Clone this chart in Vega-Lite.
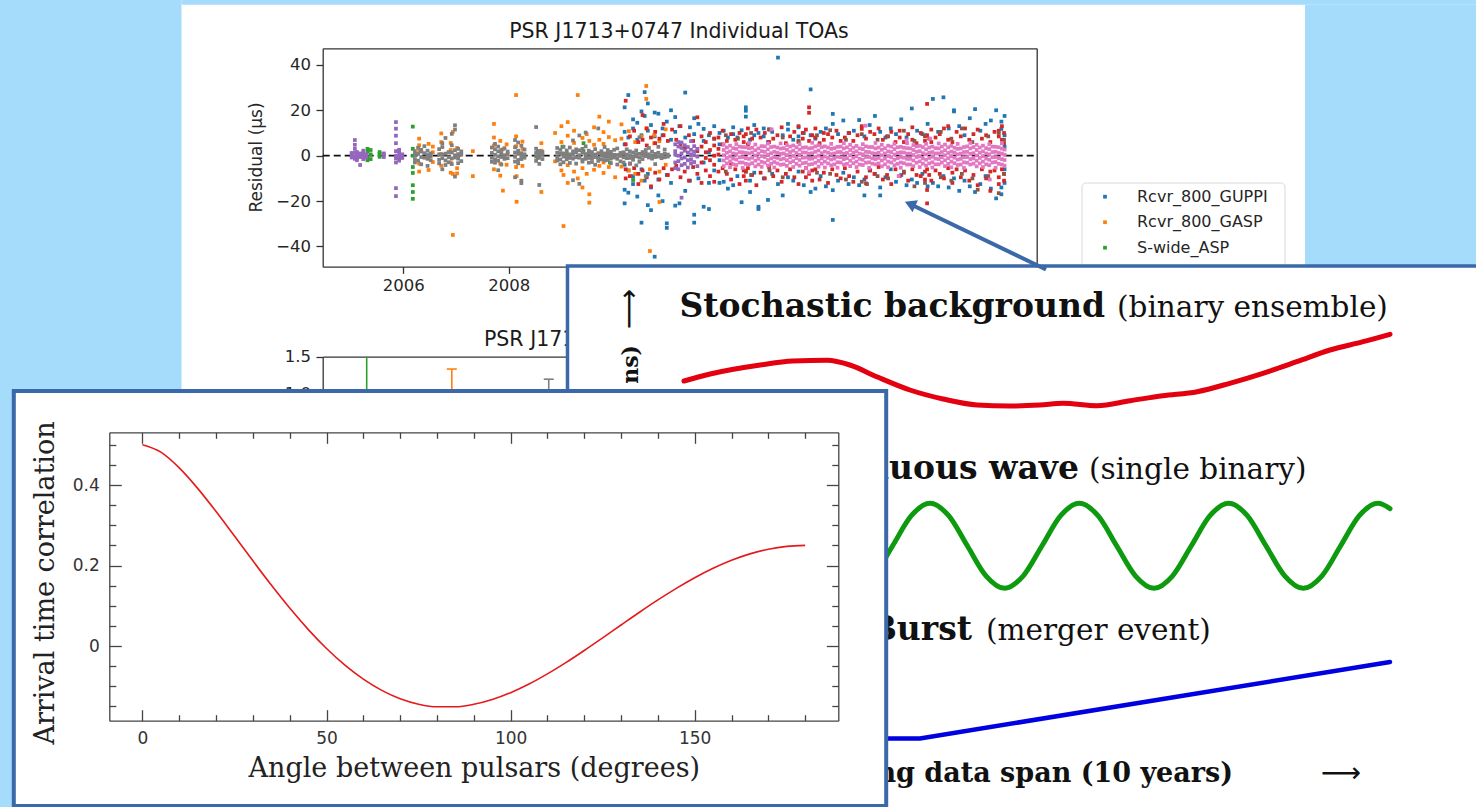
{
"$schema":"https://vega.github.io/schema/vega-lite/v6.json",
"width":1476,"height":807,"autosize":{"type":"none"},"padding":0,"background":"#ffffff",
"config":{"view":{"stroke":null},"font":"DejaVu Sans","axis":{"grid":false,"titleFontWeight":"normal"}},
"datasets":{
"strips":[{"x0":0,"y0":0,"x1":181.5,"y1":807},{"x0":181.5,"y0":0,"x1":1476,"y1":4.7},{"x0":1305,"y0":4.7,"x1":1476,"y1":266}],
"rpanel":[{"x0":567.5,"y0":266,"x1":1500,"y1":830}],
"hdpanel":[{"x0":13.8,"y0":391,"x1":886.2,"y1":806}],
"pointer":[{"px":1046,"py":269.5},{"px":910,"py":204}],
"head":[{"px":910.1,"py":204}],
"legend":[{"name":"Rcvr_800_GUPPI","b":"G8"},{"name":"Rcvr_800_GASP","b":"O8"},{"name":"S-wide_ASP","b":"SA"}],
"s2":[{"t":2005.305,"lo":0.35,"hi":1.5,"b":"SA"},{"t":2006.92,"lo":0.67,"hi":1.33,"b":"O8"},{"t":2008.76,"lo":0.81,"hi":1.19,"b":"R1"}],
"curves":[
{"t":0,"r":42.6,"s":"Stochastic"},{"t":0.37,"r":43.3,"s":"Stochastic"},{"t":1.08,"r":44.2,"s":"Stochastic"},{"t":1.54,"r":44.6,"s":"Stochastic"},{"t":2.03,"r":44.67,"s":"Stochastic"},{"t":2.35,"r":44.2,"s":"Stochastic"},{"t":2.73,"r":43.03,"s":"Stochastic"},{"t":3.2,"r":41.7,"s":"Stochastic"},{"t":3.67,"r":40.8,"s":"Stochastic"},{"t":4.15,"r":40.2,"s":"Stochastic"},{"t":4.62,"r":40.1,"s":"Stochastic"},{"t":5.04,"r":40.2,"s":"Stochastic"},{"t":5.37,"r":40.37,"s":"Stochastic"},{"t":5.85,"r":40.13,"s":"Stochastic"},{"t":6.32,"r":40.63,"s":"Stochastic"},{"t":6.78,"r":41.13,"s":"Stochastic"},{"t":7.27,"r":41.53,"s":"Stochastic"},{"t":7.73,"r":42.37,"s":"Stochastic"},{"t":8.2,"r":43.37,"s":"Stochastic"},{"t":8.68,"r":44.53,"s":"Stochastic"},{"t":9.15,"r":45.7,"s":"Stochastic"},{"t":9.62,"r":46.53,"s":"Stochastic"},{"t":10,"r":47.27,"s":"Stochastic"},
{"t":0.047,"r":23.12,"s":"Continuous"},{"t":0.311,"r":21.87,"s":"Continuous"},{"t":0.576,"r":23.12,"s":"Continuous"},{"t":0.84,"r":26.12,"s":"Continuous"},{"t":1.105,"r":29.13,"s":"Continuous"},{"t":1.369,"r":30.37,"s":"Continuous"},{"t":1.633,"r":29.13,"s":"Continuous"},{"t":1.898,"r":26.12,"s":"Continuous"},{"t":2.162,"r":23.12,"s":"Continuous"},{"t":2.427,"r":21.87,"s":"Continuous"},{"t":2.691,"r":23.12,"s":"Continuous"},{"t":2.955,"r":26.12,"s":"Continuous"},{"t":3.22,"r":29.13,"s":"Continuous"},{"t":3.484,"r":30.37,"s":"Continuous"},{"t":3.749,"r":29.13,"s":"Continuous"},{"t":4.013,"r":26.12,"s":"Continuous"},{"t":4.277,"r":23.12,"s":"Continuous"},{"t":4.542,"r":21.87,"s":"Continuous"},{"t":4.806,"r":23.12,"s":"Continuous"},{"t":5.071,"r":26.12,"s":"Continuous"},{"t":5.335,"r":29.13,"s":"Continuous"},{"t":5.599,"r":30.37,"s":"Continuous"},{"t":5.864,"r":29.13,"s":"Continuous"},{"t":6.128,"r":26.12,"s":"Continuous"},{"t":6.393,"r":23.12,"s":"Continuous"},{"t":6.657,"r":21.87,"s":"Continuous"},{"t":6.921,"r":23.12,"s":"Continuous"},{"t":7.186,"r":26.12,"s":"Continuous"},{"t":7.45,"r":29.13,"s":"Continuous"},{"t":7.715,"r":30.37,"s":"Continuous"},{"t":7.979,"r":29.13,"s":"Continuous"},{"t":8.243,"r":26.12,"s":"Continuous"},{"t":8.508,"r":23.12,"s":"Continuous"},{"t":8.772,"r":21.87,"s":"Continuous"},{"t":9.037,"r":23.12,"s":"Continuous"},{"t":9.301,"r":26.12,"s":"Continuous"},{"t":9.565,"r":29.13,"s":"Continuous"},{"t":9.83,"r":30.37,"s":"Continuous"},{"t":10,"r":29.84,"s":"Continuous"}],
"burst":[{"t":0,"r":6.85,"s":"Burst"},{"t":3.343,"r":6.85,"s":"Burst"},{"t":10,"r":14.5,"s":"Burst"}],
"boldtxt":[{"txt":"Stochastic background","t":5.963,"r":49.05},{"txt":"Continuous wave","t":5.595,"r":32.77},{"txt":"Burst","t":4.079,"r":16.67}],
"normtxt":[{"txt":"(binary ensemble)","t":6.133,"r":49.05},{"txt":"(single binary)","t":5.737,"r":32.77},{"txt":"(merger event)","t":4.278,"r":16.67}],
"axlab":[{"txt":"Timing data span (10 years)","t":7.776,"r":2.5}],
"harrow":[{"txt":"⟶","t":9.589,"r":2.5}],
"ylab":[{"txt":"Timing residual (tens of ns)","t":-0.652,"r":46.2}],
"varrow":[{"txt":"⟶","t":-0.652,"r":51.8}],
"hd":[{"a":0,"c":0.5},{"a":5,"c":0.4816},{"a":10,"c":0.4425},{"a":15,"c":0.3917},{"a":20,"c":0.3341},{"a":25,"c":0.2732},{"a":30,"c":0.2116},{"a":35,"c":0.1514},{"a":40,"c":0.0942},{"a":45,"c":0.0414},{"a":50,"c":-0.0062},{"a":55,"c":-0.0476},{"a":60,"c":-0.0824},{"a":65,"c":-0.1102},{"a":70,"c":-0.1309},{"a":75,"c":-0.1445},{"a":80,"c":-0.1511},{"a":85,"c":-0.1511},{"a":90,"c":-0.1449},{"a":95,"c":-0.1329},{"a":100,"c":-0.1159},{"a":105,"c":-0.0945},{"a":110,"c":-0.0693},{"a":115,"c":-0.0413},{"a":120,"c":-0.0111},{"a":125,"c":0.0203},{"a":130,"c":0.0522},{"a":135,"c":0.0839},{"a":140,"c":0.1145},{"a":145,"c":0.1433},{"a":150,"c":0.1697},{"a":155,"c":0.1931},{"a":160,"c":0.213},{"a":165,"c":0.2289},{"a":170,"c":0.2405},{"a":175,"c":0.2476},{"a":180,"c":0.25}],
"toa":[
{"t":2010.2,"r":21.3,"b":"G8"},{"t":2010.2,"r":-21,"b":"G8"},{"t":2010.2,"r":5,"b":"G8"},{"t":2010.2,"r":-4,"b":"G8"},{"t":2010.2,"r":10.5,"b":"G8"},{"t":2010.2,"r":-15,"b":"G8"},
{"t":2010.27,"r":26.7,"b":"G8"},{"t":2010.27,"r":-16.3,"b":"G8"},{"t":2010.27,"r":8,"b":"G8"},{"t":2010.27,"r":-6.5,"b":"G8"},
{"t":2010.36,"r":12,"b":"G8"},{"t":2010.36,"r":-9,"b":"G8"},{"t":2010.36,"r":-12.5,"b":"G8"},{"t":2010.36,"r":16,"b":"G8"},
{"t":2010.44,"r":7,"b":"G8"},{"t":2010.44,"r":14.5,"b":"G8"},{"t":2010.44,"r":-18,"b":"G8"},
{"t":2010.52,"r":-29.5,"b":"G8"},{"t":2010.52,"r":9,"b":"G8"},{"t":2010.52,"r":-6,"b":"G8"},{"t":2010.52,"r":19.5,"b":"G8"},
{"t":2010.58,"r":28,"b":"G8"},{"t":2010.58,"r":17.5,"b":"G8"},{"t":2010.58,"r":-11,"b":"G8"},
{"t":2010.64,"r":-21.8,"b":"G8"},{"t":2010.64,"r":11,"b":"G8"},{"t":2010.64,"r":-8,"b":"G8"},{"t":2010.64,"r":23,"b":"G8"},
{"t":2010.7,"r":13.5,"b":"G8"},{"t":2010.7,"r":-14,"b":"G8"},{"t":2010.7,"r":-24,"b":"G8"},
{"t":2010.77,"r":-44.5,"b":"G8"},{"t":2010.77,"r":19,"b":"G8"},{"t":2010.77,"r":8.5,"b":"G8"},
{"t":2010.84,"r":18.5,"b":"G8"},{"t":2010.84,"r":-10.5,"b":"G8"},{"t":2010.84,"r":-17.5,"b":"G8"},
{"t":2010.92,"r":9,"b":"G8"},{"t":2010.92,"r":-20,"b":"G8"},{"t":2010.92,"r":12,"b":"G8"},
{"t":2011,"r":-29.8,"b":"G8"},{"t":2011,"r":-31.8,"b":"G8"},{"t":2011,"r":15,"b":"G8"},{"t":2011,"r":-8.5,"b":"G8"},
{"t":2011.08,"r":20,"b":"G8"},{"t":2011.08,"r":-12,"b":"G8"},{"t":2011.08,"r":7,"b":"G8"},
{"t":2011.16,"r":10.5,"b":"G8"},{"t":2011.16,"r":-22,"b":"G8"},{"t":2011.16,"r":17,"b":"G8"},
{"t":2011.24,"r":-21,"b":"G8"},{"t":2011.24,"r":13,"b":"G8"},
{"t":2011.35,"r":27.8,"b":"G8"},{"t":2011.35,"r":-15.5,"b":"G8"},{"t":2011.35,"r":8,"b":"G8"},
{"t":2011.44,"r":-11,"b":"G8"},{"t":2011.44,"r":12.5,"b":"G8"},
{"t":2011.52,"r":-29.5,"b":"G8"},{"t":2011.52,"r":-26,"b":"G8"},{"t":2011.52,"r":9.5,"b":"G8"},{"t":2011.52,"r":16.5,"b":"G8"},
{"t":2011.6,"r":14,"b":"G8"},{"t":2011.6,"r":-10,"b":"G8"},
{"t":2011.7,"r":11.8,"b":"G8"},{"t":2011.7,"r":-22.5,"b":"G8"},{"t":2011.7,"r":6.5,"b":"G8"},{"t":2011.7,"r":-3,"b":"G8"},
{"t":2011.8,"r":-23.5,"b":"G8"},{"t":2011.8,"r":9,"b":"G8"},{"t":2011.8,"r":-12,"b":"G8"},{"t":2011.8,"r":1.5,"b":"G8"},
{"t":2011.9,"r":7.5,"b":"G8"},{"t":2011.9,"r":-6.5,"b":"G8"},{"t":2011.9,"r":13,"b":"G8"},
{"t":2012,"r":-12,"b":"G8"},{"t":2012,"r":10,"b":"G8"},{"t":2012,"r":-2,"b":"G8"},{"t":2012,"r":5,"b":"G8"},
{"t":2012.08,"r":11,"b":"G8"},{"t":2012.08,"r":-11.5,"b":"G8"},
{"t":2012.16,"r":-14.5,"b":"G8"},{"t":2012.16,"r":8,"b":"G8"},
{"t":2012.26,"r":-13,"b":"G8"},{"t":2012.26,"r":9.5,"b":"G8"},{"t":2012.26,"r":12.5,"b":"G8"},
{"t":2012.34,"r":8,"b":"G8"},{"t":2012.34,"r":-9,"b":"G8"},
{"t":2012.42,"r":-20.5,"b":"G8"},{"t":2012.42,"r":11.2,"b":"G8"},
{"t":2012.5,"r":17.2,"b":"G8"},{"t":2012.5,"r":19.8,"b":"G8"},{"t":2012.5,"r":21.3,"b":"G8"},{"t":2012.5,"r":-7,"b":"G8"},
{"t":2012.58,"r":-16,"b":"G8"},{"t":2012.58,"r":-11,"b":"G8"},{"t":2012.58,"r":7,"b":"G8"},
{"t":2012.66,"r":9,"b":"G8"},{"t":2012.66,"r":-7.5,"b":"G8"},{"t":2012.66,"r":13.5,"b":"G8"},
{"t":2012.74,"r":-22.5,"b":"G8"},{"t":2012.74,"r":-23.5,"b":"G8"},{"t":2012.74,"r":10,"b":"G8"},
{"t":2012.84,"r":8.5,"b":"G8"},{"t":2012.84,"r":-10,"b":"G8"},{"t":2012.84,"r":12,"b":"G8"},
{"t":2012.92,"r":-19.5,"b":"G8"},{"t":2012.92,"r":6,"b":"G8"},
{"t":2013,"r":10.5,"b":"G8"},{"t":2013,"r":-8,"b":"G8"},
{"t":2013.11,"r":43.2,"b":"G8"},{"t":2013.11,"r":-12.5,"b":"G8"},
{"t":2013.2,"r":-17.5,"b":"G8"},{"t":2013.2,"r":9,"b":"G8"},
{"t":2013.3,"r":11.5,"b":"G8"},{"t":2013.3,"r":-9.5,"b":"G8"},{"t":2013.3,"r":14,"b":"G8"},
{"t":2013.4,"r":-11,"b":"G8"},{"t":2013.4,"r":7,"b":"G8"},
{"t":2013.5,"r":8.5,"b":"G8"},{"t":2013.5,"r":-7,"b":"G8"},{"t":2013.5,"r":12.5,"b":"G8"},
{"t":2013.6,"r":-13,"b":"G8"},{"t":2013.6,"r":10,"b":"G8"},
{"t":2013.73,"r":29.2,"b":"G8"},{"t":2013.73,"r":9,"b":"G8"},{"t":2013.73,"r":-16,"b":"G8"},
{"t":2013.82,"r":-14.5,"b":"G8"},{"t":2013.82,"r":7.5,"b":"G8"},
{"t":2013.92,"r":10.5,"b":"G8"},{"t":2013.92,"r":-9,"b":"G8"},
{"t":2014.02,"r":-13.5,"b":"G8"},{"t":2014.02,"r":12,"b":"G8"},
{"t":2014.15,"r":18.4,"b":"G8"},{"t":2014.15,"r":14,"b":"G8"},{"t":2014.15,"r":-28.3,"b":"G8"},{"t":2014.15,"r":-15.2,"b":"G8"},
{"t":2014.25,"r":9.5,"b":"G8"},{"t":2014.25,"r":-11,"b":"G8"},
{"t":2014.35,"r":15.5,"b":"G8"},{"t":2014.35,"r":-7.5,"b":"G8"},
{"t":2014.45,"r":-12.5,"b":"G8"},{"t":2014.45,"r":10,"b":"G8"},
{"t":2014.55,"r":11,"b":"G8"},{"t":2014.55,"r":-9.5,"b":"G8"},
{"t":2014.65,"r":15.7,"b":"G8"},{"t":2014.65,"r":-13,"b":"G8"},
{"t":2014.75,"r":-10.5,"b":"G8"},{"t":2014.75,"r":8.5,"b":"G8"},{"t":2014.75,"r":-17.5,"b":"G8"},
{"t":2014.85,"r":13.5,"b":"G8"},{"t":2014.85,"r":-6.5,"b":"G8"},
{"t":2014.95,"r":17.5,"b":"G8"},{"t":2014.95,"r":-8,"b":"G8"},
{"t":2015.05,"r":10.5,"b":"G8"},{"t":2015.05,"r":-14,"b":"G8"},{"t":2015.05,"r":-17.5,"b":"G8"},
{"t":2015.15,"r":8,"b":"G8"},{"t":2015.15,"r":-9.5,"b":"G8"},
{"t":2015.25,"r":12,"b":"G8"},{"t":2015.25,"r":-6,"b":"G8"},
{"t":2015.35,"r":-11.5,"b":"G8"},{"t":2015.35,"r":9.5,"b":"G8"},
{"t":2015.45,"r":16,"b":"G8"},{"t":2015.45,"r":-8.5,"b":"G8"},
{"t":2015.55,"r":-13,"b":"G8"},{"t":2015.55,"r":8,"b":"G8"},
{"t":2015.65,"r":20.8,"b":"G8"},{"t":2015.65,"r":-10.5,"b":"G8"},
{"t":2015.75,"r":-12,"b":"G8"},{"t":2015.75,"r":11,"b":"G8"},
{"t":2015.85,"r":9.5,"b":"G8"},{"t":2015.85,"r":-8,"b":"G8"},
{"t":2015.95,"r":-13.5,"b":"G8"},{"t":2015.95,"r":14,"b":"G8"},
{"t":2016.05,"r":25,"b":"G8"},{"t":2016.05,"r":-12,"b":"G8"},
{"t":2016.15,"r":10.5,"b":"G8"},{"t":2016.15,"r":-13.5,"b":"G8"},
{"t":2016.25,"r":25.7,"b":"G8"},{"t":2016.25,"r":-9,"b":"G8"},
{"t":2016.35,"r":-14,"b":"G8"},{"t":2016.35,"r":12,"b":"G8"},
{"t":2016.45,"r":20,"b":"G8"},{"t":2016.45,"r":19.5,"b":"G8"},{"t":2016.45,"r":-10,"b":"G8"},
{"t":2016.55,"r":13,"b":"G8"},{"t":2016.55,"r":-15.5,"b":"G8"},
{"t":2016.65,"r":9,"b":"G8"},{"t":2016.65,"r":-11,"b":"G8"},
{"t":2016.75,"r":16.5,"b":"G8"},{"t":2016.75,"r":-13.5,"b":"G8"},
{"t":2016.85,"r":20.5,"b":"G8"},{"t":2016.85,"r":-16,"b":"G8"},
{"t":2016.95,"r":-12.5,"b":"G8"},{"t":2016.95,"r":11,"b":"G8"},
{"t":2017.05,"r":14,"b":"G8"},{"t":2017.05,"r":-9,"b":"G8"},
{"t":2017.15,"r":15.5,"b":"G8"},{"t":2017.15,"r":-14.5,"b":"G8"},
{"t":2017.25,"r":20,"b":"G8"},{"t":2017.25,"r":-18.8,"b":"G8"},
{"t":2017.35,"r":15,"b":"G8"},{"t":2017.35,"r":11.8,"b":"G8"},{"t":2017.35,"r":-14,"b":"G8"},{"t":2017.35,"r":-17,"b":"G8"},
{"t":2017.41,"r":17.5,"b":"G8"},{"t":2017.41,"r":9,"b":"G8"},{"t":2017.41,"r":-12,"b":"G8"},{"t":2017.41,"r":4,"b":"G8"},{"t":2017.41,"r":-6,"b":"G8"},
{"t":2006.3,"r":2,"b":"O8"},{"t":2006.3,"r":-3.5,"b":"O8"},{"t":2006.3,"r":7.5,"b":"O8"},{"t":2006.3,"r":-7,"b":"O8"},{"t":2006.3,"r":4.6,"b":"O8"},
{"t":2006.48,"r":-1,"b":"O8"},{"t":2006.48,"r":5.2,"b":"O8"},{"t":2006.48,"r":-6.3,"b":"O8"},
{"t":2006.56,"r":1.5,"b":"O8"},{"t":2006.56,"r":-2.8,"b":"O8"},{"t":2006.56,"r":4,"b":"O8"},
{"t":2006.72,"r":0.8,"b":"O8"},{"t":2006.72,"r":-4.4,"b":"O8"},{"t":2006.72,"r":6,"b":"O8"},{"t":2006.72,"r":9.8,"b":"O8"},
{"t":2006.9,"r":-3,"b":"O8"},{"t":2006.9,"r":2.5,"b":"O8"},{"t":2006.9,"r":-7.5,"b":"O8"},{"t":2006.9,"r":5.6,"b":"O8"},
{"t":2006.94,"r":-34.9,"b":"O8"},{"t":2006.94,"r":-8,"b":"O8"},{"t":2006.94,"r":10.5,"b":"O8"},
{"t":2007.02,"r":3.4,"b":"O8"},{"t":2007.02,"r":-5.5,"b":"O8"},{"t":2007.02,"r":-7.8,"b":"O8"},
{"t":2007.32,"r":2,"b":"O8"},{"t":2007.32,"r":-9,"b":"O8"},
{"t":2007.72,"r":4.5,"b":"O8"},{"t":2007.72,"r":-6,"b":"O8"},{"t":2007.72,"r":14,"b":"O8"},{"t":2007.72,"r":8,"b":"O8"},
{"t":2007.84,"r":-3.5,"b":"O8"},{"t":2007.84,"r":6.5,"b":"O8"},{"t":2007.84,"r":-8.8,"b":"O8"},
{"t":2007.89,"r":-15.4,"b":"O8"},{"t":2007.89,"r":2.8,"b":"O8"},
{"t":2007.96,"r":5,"b":"O8"},{"t":2007.96,"r":-4,"b":"O8"},
{"t":2008.14,"r":26.7,"b":"O8"},{"t":2008.14,"r":4.2,"b":"O8"},{"t":2008.14,"r":-5,"b":"O8"},{"t":2008.14,"r":8.5,"b":"O8"},
{"t":2008.15,"r":-20.3,"b":"O8"},{"t":2008.15,"r":-9,"b":"O8"},
{"t":2008.26,"r":3,"b":"O8"},{"t":2008.26,"r":-4.5,"b":"O8"},{"t":2008.26,"r":6.2,"b":"O8"},
{"t":2008.62,"r":-16,"b":"O8"},{"t":2008.62,"r":2.2,"b":"O8"},{"t":2008.62,"r":5.5,"b":"O8"},
{"t":2008.88,"r":10,"b":"O8"},{"t":2008.88,"r":-2.5,"b":"O8"},
{"t":2009,"r":6,"b":"O8"},{"t":2009,"r":-6.5,"b":"O8"},{"t":2009,"r":13,"b":"O8"},
{"t":2009.04,"r":-31,"b":"O8"},{"t":2009.04,"r":-8.5,"b":"O8"},
{"t":2009.12,"r":8.8,"b":"O8"},{"t":2009.12,"r":-4.2,"b":"O8"},{"t":2009.12,"r":14.8,"b":"O8"},{"t":2009.12,"r":-12,"b":"O8"},
{"t":2009.24,"r":5.6,"b":"O8"},{"t":2009.24,"r":-7,"b":"O8"},{"t":2009.24,"r":11,"b":"O8"},
{"t":2009.31,"r":26.7,"b":"O8"},{"t":2009.31,"r":-10,"b":"O8"},
{"t":2009.4,"r":7.8,"b":"O8"},{"t":2009.4,"r":-5.5,"b":"O8"},{"t":2009.4,"r":-14,"b":"O8"},
{"t":2009.48,"r":9.5,"b":"O8"},{"t":2009.48,"r":-8,"b":"O8"},
{"t":2009.53,"r":-20.7,"b":"O8"},{"t":2009.53,"r":-17,"b":"O8"},{"t":2009.53,"r":6.5,"b":"O8"},
{"t":2009.62,"r":4.8,"b":"O8"},{"t":2009.62,"r":-6.2,"b":"O8"},{"t":2009.62,"r":12.5,"b":"O8"},
{"t":2009.72,"r":17.2,"b":"O8"},{"t":2009.72,"r":-4.5,"b":"O8"},{"t":2009.72,"r":7,"b":"O8"},
{"t":2009.8,"r":-3,"b":"O8"},{"t":2009.8,"r":5.2,"b":"O8"},{"t":2009.8,"r":-7.6,"b":"O8"},{"t":2009.8,"r":10.4,"b":"O8"},
{"t":2009.9,"r":-5,"b":"O8"},{"t":2009.9,"r":8.2,"b":"O8"},{"t":2009.9,"r":15,"b":"O8"},
{"t":2010.02,"r":6.8,"b":"O8"},{"t":2010.02,"r":-9.5,"b":"O8"},
{"t":2010.14,"r":13.8,"b":"O8"},{"t":2010.14,"r":-4.8,"b":"O8"},{"t":2010.14,"r":7.5,"b":"O8"},
{"t":2010.28,"r":-6.5,"b":"O8"},{"t":2010.28,"r":10.8,"b":"O8"},
{"t":2010.4,"r":-8,"b":"O8"},{"t":2010.4,"r":6,"b":"O8"},
{"t":2010.52,"r":8.5,"b":"O8"},{"t":2010.52,"r":-11,"b":"O8"},
{"t":2010.61,"r":30.7,"b":"O8"},{"t":2010.61,"r":25,"b":"O8"},{"t":2010.61,"r":12,"b":"O8"},
{"t":2010.68,"r":-42,"b":"O8"},{"t":2010.68,"r":-6,"b":"O8"},
{"t":2010.76,"r":5.5,"b":"O8"},{"t":2010.76,"r":9,"b":"O8"},
{"t":2010.86,"r":-20.4,"b":"O8"},{"t":2010.86,"r":-7,"b":"O8"},{"t":2010.86,"r":6.4,"b":"O8"},
{"t":2010.98,"r":-4,"b":"O8"},{"t":2010.98,"r":11.6,"b":"O8"},
{"t":2005.32,"r":1.8,"b":"SA"},{"t":2005.32,"r":-0.8,"b":"SA"},{"t":2005.32,"r":3,"b":"SA"},{"t":2005.32,"r":-2,"b":"SA"},
{"t":2005.38,"r":2.5,"b":"SA"},{"t":2005.38,"r":-1.5,"b":"SA"},{"t":2005.38,"r":0.6,"b":"SA"},
{"t":2005.55,"r":0.8,"b":"SA"},{"t":2005.55,"r":-0.5,"b":"SA"},{"t":2005.55,"r":1.6,"b":"SA"},
{"t":2005.92,"r":2,"b":"SA"},{"t":2005.92,"r":-1,"b":"SA"},
{"t":2006.18,"r":12.8,"b":"SA"},{"t":2006.18,"r":3,"b":"SA"},{"t":2006.18,"r":0,"b":"SA"},{"t":2006.18,"r":-5,"b":"SA"},{"t":2006.18,"r":-7.6,"b":"SA"},{"t":2006.18,"r":-13,"b":"SA"},{"t":2006.18,"r":-16,"b":"SA"},{"t":2006.18,"r":-19,"b":"SA"},
{"t":2008.55,"r":2,"b":"SA"},{"t":2008.55,"r":-1,"b":"SA"},
{"t":2009.02,"r":4,"b":"SA"},{"t":2009.02,"r":1,"b":"SA"},
{"t":2009.42,"r":5.5,"b":"SA"},{"t":2009.42,"r":2,"b":"SA"},
{"t":2009.76,"r":0.3,"b":"SA"},{"t":2009.92,"r":1,"b":"SA"},{"t":2009.92,"r":-3,"b":"SA"},{"t":2010.36,"r":-10.7,"b":"SA"},
{"t":2010.22,"r":24.2,"b":"R2"},{"t":2010.22,"r":5,"b":"R2"},{"t":2010.22,"r":-6,"b":"R2"},{"t":2010.22,"r":-10,"b":"R2"},
{"t":2010.3,"r":-3.5,"b":"R2"},{"t":2010.3,"r":8.5,"b":"R2"},{"t":2010.3,"r":-9,"b":"R2"},
{"t":2010.38,"r":-5.5,"b":"R2"},{"t":2010.38,"r":11,"b":"R2"},
{"t":2010.46,"r":-8,"b":"R2"},{"t":2010.46,"r":6,"b":"R2"},{"t":2010.46,"r":-12.5,"b":"R2"},
{"t":2010.54,"r":17.9,"b":"R2"},{"t":2010.54,"r":7,"b":"R2"},{"t":2010.54,"r":-6.5,"b":"R2"},
{"t":2010.62,"r":4.5,"b":"R2"},{"t":2010.62,"r":-9.5,"b":"R2"},{"t":2010.62,"r":12,"b":"R2"},
{"t":2010.7,"r":8,"b":"R2"},{"t":2010.7,"r":-13.5,"b":"R2"},
{"t":2010.78,"r":10.5,"b":"R2"},{"t":2010.78,"r":5.5,"b":"R2"},{"t":2010.78,"r":-7.5,"b":"R2"},
{"t":2010.86,"r":-10.5,"b":"R2"},{"t":2010.86,"r":7.5,"b":"R2"},
{"t":2010.94,"r":-5.5,"b":"R2"},{"t":2010.94,"r":9,"b":"R2"},{"t":2010.94,"r":14,"b":"R2"},
{"t":2011.02,"r":6.5,"b":"R2"},{"t":2011.02,"r":-8.5,"b":"R2"},
{"t":2011.1,"r":11.5,"b":"R2"},{"t":2011.1,"r":-6,"b":"R2"},
{"t":2011.18,"r":7,"b":"R2"},{"t":2011.18,"r":-4.5,"b":"R2"},
{"t":2011.26,"r":-9.5,"b":"R2"},{"t":2011.26,"r":5,"b":"R2"},{"t":2011.26,"r":13,"b":"R2"},
{"t":2011.34,"r":3,"b":"R2"},{"t":2011.34,"r":-7,"b":"R2"},
{"t":2011.42,"r":9,"b":"R2"},{"t":2011.42,"r":-11,"b":"R2"},
{"t":2011.5,"r":-5,"b":"R2"},{"t":2011.5,"r":6.5,"b":"R2"},
{"t":2011.58,"r":16.9,"b":"R2"},{"t":2011.58,"r":2,"b":"R2"},{"t":2011.58,"r":-8,"b":"R2"},
{"t":2011.66,"r":-3,"b":"R2"},{"t":2011.66,"r":8.5,"b":"R2"},{"t":2011.66,"r":-12,"b":"R2"},{"t":2011.66,"r":4,"b":"R2"},
{"t":2011.74,"r":6,"b":"R2"},{"t":2011.74,"r":-6.5,"b":"R2"},{"t":2011.74,"r":1.5,"b":"R2"},{"t":2011.74,"r":-1,"b":"R2"},
{"t":2011.82,"r":-9,"b":"R2"},{"t":2011.82,"r":10,"b":"R2"},{"t":2011.82,"r":2.5,"b":"R2"},{"t":2011.82,"r":-2,"b":"R2"},
{"t":2011.9,"r":4.5,"b":"R2"},{"t":2011.9,"r":-4,"b":"R2"},{"t":2011.9,"r":7.5,"b":"R2"},{"t":2011.9,"r":-11.5,"b":"R2"},{"t":2011.9,"r":0,"b":"R2"},
{"t":2011.98,"r":0.5,"b":"R2"},{"t":2011.98,"r":8,"b":"R2"},{"t":2011.98,"r":-7,"b":"R2"},{"t":2011.98,"r":3,"b":"R2"},
{"t":2012.06,"r":-5.5,"b":"R2"},{"t":2012.06,"r":5,"b":"R2"},{"t":2012.06,"r":11,"b":"R2"},
{"t":2012.14,"r":6.5,"b":"R2"},{"t":2012.14,"r":-8,"b":"R2"},
{"t":2012.22,"r":-3.5,"b":"R2"},{"t":2012.22,"r":9.5,"b":"R2"},{"t":2012.22,"r":-10.5,"b":"R2"},
{"t":2012.3,"r":-6,"b":"R2"},{"t":2012.3,"r":7,"b":"R2"},
{"t":2012.38,"r":-12.5,"b":"R2"},{"t":2012.38,"r":10,"b":"R2"},
{"t":2012.46,"r":8.5,"b":"R2"},{"t":2012.46,"r":-9,"b":"R2"},{"t":2012.46,"r":6,"b":"R2"},{"t":2012.46,"r":-6.5,"b":"R2"},
{"t":2012.5,"r":-7,"b":"R2"},{"t":2012.5,"r":9.5,"b":"R2"},{"t":2012.5,"r":-11,"b":"R2"},
{"t":2012.54,"r":5,"b":"R2"},{"t":2012.54,"r":-5.5,"b":"R2"},{"t":2012.54,"r":12,"b":"R2"},
{"t":2012.62,"r":-8.5,"b":"R2"},{"t":2012.62,"r":7.5,"b":"R2"},
{"t":2012.7,"r":11.5,"b":"R2"},{"t":2012.7,"r":-13,"b":"R2"},
{"t":2012.78,"r":-7.5,"b":"R2"},{"t":2012.78,"r":8,"b":"R2"},
{"t":2012.86,"r":10,"b":"R2"},{"t":2012.86,"r":-10,"b":"R2"},
{"t":2012.94,"r":6,"b":"R2"},{"t":2012.94,"r":-5,"b":"R2"},{"t":2012.94,"r":11.6,"b":"R2"},
{"t":2013.02,"r":-9,"b":"R2"},{"t":2013.02,"r":7.5,"b":"R2"},
{"t":2013.1,"r":9,"b":"R2"},{"t":2013.1,"r":-6.5,"b":"R2"},
{"t":2013.18,"r":12.5,"b":"R2"},{"t":2013.18,"r":-11.5,"b":"R2"},
{"t":2013.26,"r":5.5,"b":"R2"},{"t":2013.26,"r":-8,"b":"R2"},
{"t":2013.34,"r":-6,"b":"R2"},{"t":2013.34,"r":8.5,"b":"R2"},
{"t":2013.42,"r":10.5,"b":"R2"},{"t":2013.42,"r":-9.5,"b":"R2"},
{"t":2013.5,"r":6,"b":"R2"},{"t":2013.5,"r":-12.5,"b":"R2"},{"t":2013.5,"r":13,"b":"R2"},
{"t":2013.58,"r":7.5,"b":"R2"},{"t":2013.58,"r":-7,"b":"R2"},{"t":2013.58,"r":10,"b":"R2"},
{"t":2013.64,"r":-9.5,"b":"R2"},{"t":2013.64,"r":11.5,"b":"R2"},{"t":2013.64,"r":-5.5,"b":"R2"},
{"t":2013.7,"r":21.3,"b":"R2"},{"t":2013.7,"r":18.9,"b":"R2"},{"t":2013.7,"r":6.5,"b":"R2"},{"t":2013.7,"r":-8,"b":"R2"},
{"t":2013.76,"r":-6.5,"b":"R2"},{"t":2013.76,"r":9,"b":"R2"},{"t":2013.76,"r":-11,"b":"R2"},
{"t":2013.82,"r":8,"b":"R2"},{"t":2013.82,"r":12,"b":"R2"},{"t":2013.82,"r":-6,"b":"R2"},
{"t":2013.9,"r":-10.5,"b":"R2"},{"t":2013.9,"r":5.5,"b":"R2"},
{"t":2013.98,"r":7,"b":"R2"},{"t":2013.98,"r":-7.5,"b":"R2"},{"t":2013.98,"r":10,"b":"R2"},
{"t":2014.06,"r":9.5,"b":"R2"},{"t":2014.06,"r":-12,"b":"R2"},
{"t":2014.14,"r":-6,"b":"R2"},{"t":2014.14,"r":8,"b":"R2"},
{"t":2014.22,"r":-8.5,"b":"R2"},{"t":2014.22,"r":11,"b":"R2"},
{"t":2014.3,"r":6.5,"b":"R2"},{"t":2014.3,"r":-10,"b":"R2"},
{"t":2014.38,"r":-5.5,"b":"R2"},{"t":2014.38,"r":8,"b":"R2"},
{"t":2014.46,"r":10,"b":"R2"},{"t":2014.46,"r":-9,"b":"R2"},
{"t":2014.54,"r":6.5,"b":"R2"},{"t":2014.54,"r":-11.5,"b":"R2"},
{"t":2014.62,"r":9,"b":"R2"},{"t":2014.62,"r":-7,"b":"R2"},
{"t":2014.7,"r":13,"b":"R2"},{"t":2014.7,"r":11.8,"b":"R2"},
{"t":2014.78,"r":-9.5,"b":"R2"},{"t":2014.78,"r":7.5,"b":"R2"},{"t":2014.78,"r":-12.2,"b":"R2"},
{"t":2014.86,"r":-6.5,"b":"R2"},{"t":2014.86,"r":10.5,"b":"R2"},
{"t":2014.94,"r":-8,"b":"R2"},{"t":2014.94,"r":9.5,"b":"R2"},
{"t":2015.02,"r":-5,"b":"R2"},{"t":2015.02,"r":12,"b":"R2"},
{"t":2015.1,"r":-10.5,"b":"R2"},{"t":2015.1,"r":7,"b":"R2"},
{"t":2015.18,"r":8.5,"b":"R2"},{"t":2015.18,"r":-8.5,"b":"R2"},
{"t":2015.26,"r":10.5,"b":"R2"},{"t":2015.26,"r":-12.5,"b":"R2"},
{"t":2015.34,"r":6,"b":"R2"},{"t":2015.34,"r":-6,"b":"R2"},
{"t":2015.42,"r":-9,"b":"R2"},{"t":2015.42,"r":8,"b":"R2"},{"t":2015.42,"r":11,"b":"R2"},
{"t":2015.5,"r":6,"b":"R2"},{"t":2015.5,"r":-7.5,"b":"R2"},
{"t":2015.58,"r":9.5,"b":"R2"},{"t":2015.58,"r":-11,"b":"R2"},
{"t":2015.66,"r":7,"b":"R2"},{"t":2015.66,"r":12.5,"b":"R2"},{"t":2015.66,"r":-6,"b":"R2"},
{"t":2015.74,"r":-8.5,"b":"R2"},{"t":2015.74,"r":5.5,"b":"R2"},
{"t":2015.82,"r":10,"b":"R2"},{"t":2015.82,"r":-9,"b":"R2"},
{"t":2015.9,"r":6.5,"b":"R2"},{"t":2015.9,"r":-7,"b":"R2"},{"t":2015.9,"r":-10.5,"b":"R2"},{"t":2015.9,"r":8.5,"b":"R2"},
{"t":2015.94,"r":22.8,"b":"R2"},{"t":2015.94,"r":-15.1,"b":"R2"},{"t":2015.94,"r":-21,"b":"R2"},{"t":2015.94,"r":9,"b":"R2"},{"t":2015.94,"r":-6,"b":"R2"},
{"t":2015.98,"r":7.5,"b":"R2"},{"t":2015.98,"r":-8.5,"b":"R2"},
{"t":2016.02,"r":11.5,"b":"R2"},{"t":2016.02,"r":-11,"b":"R2"},{"t":2016.02,"r":6,"b":"R2"},
{"t":2016.1,"r":-6.5,"b":"R2"},{"t":2016.1,"r":8,"b":"R2"},
{"t":2016.18,"r":9.5,"b":"R2"},{"t":2016.18,"r":-8,"b":"R2"},
{"t":2016.26,"r":-10,"b":"R2"},{"t":2016.26,"r":12,"b":"R2"},
{"t":2016.34,"r":13,"b":"R2"},{"t":2016.34,"r":-5.5,"b":"R2"},{"t":2016.34,"r":7,"b":"R2"},
{"t":2016.42,"r":-7.5,"b":"R2"},{"t":2016.42,"r":6,"b":"R2"},{"t":2016.42,"r":-12,"b":"R2"},
{"t":2016.5,"r":-6,"b":"R2"},{"t":2016.5,"r":10.5,"b":"R2"},
{"t":2016.58,"r":-9.5,"b":"R2"},{"t":2016.58,"r":8.5,"b":"R2"},
{"t":2016.66,"r":12,"b":"R2"},{"t":2016.66,"r":-6.5,"b":"R2"},
{"t":2016.74,"r":-11,"b":"R2"},{"t":2016.74,"r":7,"b":"R2"},
{"t":2016.82,"r":-8.5,"b":"R2"},{"t":2016.82,"r":9.5,"b":"R2"},
{"t":2016.9,"r":11.5,"b":"R2"},{"t":2016.9,"r":-13,"b":"R2"},
{"t":2016.98,"r":7.5,"b":"R2"},{"t":2016.98,"r":-6,"b":"R2"},
{"t":2017.06,"r":-10,"b":"R2"},{"t":2017.06,"r":9,"b":"R2"},
{"t":2017.14,"r":6,"b":"R2"},{"t":2017.14,"r":-7,"b":"R2"},{"t":2017.14,"r":-15.5,"b":"R2"},
{"t":2017.22,"r":10.5,"b":"R2"},{"t":2017.22,"r":-6.5,"b":"R2"},
{"t":2017.3,"r":8.5,"b":"R2"},{"t":2017.3,"r":-9.5,"b":"R2"},{"t":2017.3,"r":-12.5,"b":"R2"},{"t":2017.3,"r":11,"b":"R2"},
{"t":2017.36,"r":13,"b":"R2"},{"t":2017.36,"r":-6,"b":"R2"},{"t":2017.36,"r":7,"b":"R2"},
{"t":2017.4,"r":-8,"b":"R2"},{"t":2017.4,"r":5.5,"b":"R2"},{"t":2017.4,"r":10,"b":"R2"},{"t":2017.4,"r":-11,"b":"R2"},
{"t":2005.02,"r":0.5,"b":"LA"},{"t":2005.02,"r":-0.8,"b":"LA"},{"t":2005.02,"r":1.2,"b":"LA"},
{"t":2005.08,"r":6.9,"b":"LA"},{"t":2005.08,"r":4.8,"b":"LA"},{"t":2005.08,"r":3,"b":"LA"},{"t":2005.08,"r":1.2,"b":"LA"},{"t":2005.08,"r":-0.5,"b":"LA"},{"t":2005.08,"r":-1.4,"b":"LA"},
{"t":2005.12,"r":0.8,"b":"LA"},{"t":2005.12,"r":-0.2,"b":"LA"},{"t":2005.12,"r":1.6,"b":"LA"},{"t":2005.12,"r":-1,"b":"LA"},{"t":2005.12,"r":-2,"b":"LA"},
{"t":2005.18,"r":0.3,"b":"LA"},{"t":2005.18,"r":1,"b":"LA"},{"t":2005.18,"r":-0.6,"b":"LA"},{"t":2005.18,"r":-4.1,"b":"LA"},
{"t":2005.24,"r":-0.4,"b":"LA"},{"t":2005.24,"r":0.9,"b":"LA"},{"t":2005.24,"r":2.2,"b":"LA"},{"t":2005.24,"r":-1.5,"b":"LA"},
{"t":2005.3,"r":0.6,"b":"LA"},{"t":2005.3,"r":-0.8,"b":"LA"},
{"t":2005.63,"r":0.4,"b":"LA"},{"t":2005.63,"r":-0.6,"b":"LA"},{"t":2005.63,"r":1,"b":"LA"},
{"t":2005.86,"r":14.8,"b":"LA"},{"t":2005.86,"r":11.9,"b":"LA"},{"t":2005.86,"r":8.8,"b":"LA"},{"t":2005.86,"r":5.5,"b":"LA"},{"t":2005.86,"r":2,"b":"LA"},{"t":2005.86,"r":0,"b":"LA"},{"t":2005.86,"r":-1.2,"b":"LA"},{"t":2005.86,"r":-3,"b":"LA"},{"t":2005.86,"r":-14.3,"b":"LA"},{"t":2005.86,"r":-17.8,"b":"LA"},
{"t":2005.92,"r":1,"b":"LA"},{"t":2005.92,"r":-0.5,"b":"LA"},{"t":2005.92,"r":2.6,"b":"LA"},{"t":2005.92,"r":-2.2,"b":"LA"},
{"t":2005.98,"r":0.6,"b":"LA"},{"t":2005.98,"r":-1,"b":"LA"},
{"t":2011.16,"r":2,"b":"LA"},{"t":2011.16,"r":-3,"b":"LA"},{"t":2011.16,"r":5,"b":"LA"},{"t":2011.16,"r":-5.5,"b":"LA"},{"t":2011.16,"r":0.5,"b":"LA"},
{"t":2011.22,"r":4,"b":"LA"},{"t":2011.22,"r":-2.4,"b":"LA"},{"t":2011.22,"r":0,"b":"LA"},{"t":2011.22,"r":6,"b":"LA"},{"t":2011.22,"r":-6,"b":"LA"},
{"t":2011.28,"r":-1.2,"b":"LA"},{"t":2011.28,"r":3.4,"b":"LA"},{"t":2011.28,"r":-4.2,"b":"LA"},{"t":2011.28,"r":1,"b":"LA"},{"t":2011.28,"r":5.8,"b":"LA"},{"t":2011.28,"r":-18.5,"b":"LA"},
{"t":2011.34,"r":2.2,"b":"LA"},{"t":2011.34,"r":-0.8,"b":"LA"},{"t":2011.34,"r":-3.6,"b":"LA"},{"t":2011.34,"r":4.6,"b":"LA"},
{"t":2011.4,"r":-2,"b":"LA"},{"t":2011.4,"r":1.4,"b":"LA"},{"t":2011.4,"r":3.8,"b":"LA"},{"t":2011.4,"r":-5.2,"b":"LA"},
{"t":2011.46,"r":0.6,"b":"LA"},{"t":2011.46,"r":-1.6,"b":"LA"},{"t":2011.46,"r":2.6,"b":"LA"},{"t":2011.46,"r":6.4,"b":"LA"},{"t":2011.46,"r":-3.4,"b":"LA"},
{"t":2011.52,"r":1.8,"b":"LA"},{"t":2011.52,"r":-2.8,"b":"LA"},{"t":2011.52,"r":0.2,"b":"LA"},{"t":2011.52,"r":4.2,"b":"LA"},
{"t":2011.58,"r":-0.4,"b":"LA"},{"t":2011.58,"r":3,"b":"LA"},{"t":2011.58,"r":-4.6,"b":"LA"},
{"t":2012.12,"r":9,"b":"SP"},{"t":2012.12,"r":-7,"b":"SP"},{"t":2012.35,"r":7.5,"b":"SP"},{"t":2012.6,"r":-8.5,"b":"SP"},{"t":2012.6,"r":10,"b":"SP"},{"t":2012.95,"r":11.5,"b":"SP"},{"t":2012.95,"r":-6.5,"b":"SP"},{"t":2013.2,"r":8,"b":"SP"},{"t":2013.2,"r":-9.5,"b":"SP"},{"t":2013.5,"r":6.5,"b":"SP"},{"t":2013.85,"r":-7.5,"b":"SP"},{"t":2013.85,"r":9,"b":"SP"},{"t":2014.1,"r":11.2,"b":"SP"},{"t":2014.1,"r":-8,"b":"SP"},{"t":2014.4,"r":-10.5,"b":"SP"},{"t":2014.4,"r":7,"b":"SP"},{"t":2014.7,"r":9.5,"b":"SP"},{"t":2014.7,"r":-11.5,"b":"SP"},{"t":2014.8,"r":-12.5,"b":"SP"},{"t":2015,"r":7,"b":"SP"},{"t":2015,"r":-9,"b":"SP"},{"t":2015.2,"r":-10,"b":"SP"},{"t":2015.2,"r":8.5,"b":"SP"},{"t":2015.5,"r":11,"b":"SP"},{"t":2015.5,"r":-7,"b":"SP"},{"t":2015.7,"r":-13.5,"b":"SP"},{"t":2015.7,"r":6.5,"b":"SP"},{"t":2015.9,"r":9,"b":"SP"},{"t":2015.9,"r":-12,"b":"SP"},{"t":2016.2,"r":-9.5,"b":"SP"},{"t":2016.2,"r":10.5,"b":"SP"},{"t":2016.4,"r":7.5,"b":"SP"},{"t":2016.4,"r":-11,"b":"SP"},{"t":2016.6,"r":-8,"b":"SP"},{"t":2016.6,"r":12,"b":"SP"},{"t":2016.8,"r":6,"b":"SP"},{"t":2016.8,"r":-10,"b":"SP"},{"t":2016.9,"r":-15,"b":"SP"},{"t":2017.1,"r":8.5,"b":"SP"},{"t":2017.1,"r":-9,"b":"SP"},{"t":2017.3,"r":-16.5,"b":"SP"},{"t":2017.3,"r":10,"b":"SP"},{"t":2017.4,"r":7,"b":"SP"},{"t":2017.4,"r":-8,"b":"SP"},
{"t":2012.08,"r":-4.6,"b":"LP"},{"t":2012.08,"r":-2.1,"b":"LP"},{"t":2012.08,"r":0.2,"b":"LP"},{"t":2012.08,"r":2.5,"b":"LP"},{"t":2012.08,"r":4.8,"b":"LP"},
{"t":2012.2,"r":-5.1,"b":"LP"},{"t":2012.2,"r":-2.5,"b":"LP"},{"t":2012.2,"r":-0.4,"b":"LP"},{"t":2012.2,"r":1.9,"b":"LP"},{"t":2012.2,"r":4.4,"b":"LP"},
{"t":2012.32,"r":-4.1,"b":"LP"},{"t":2012.32,"r":-1.7,"b":"LP"},{"t":2012.32,"r":0.7,"b":"LP"},{"t":2012.32,"r":3,"b":"LP"},{"t":2012.32,"r":5.1,"b":"LP"},
{"t":2012.44,"r":-5.4,"b":"LP"},{"t":2012.44,"r":-3,"b":"LP"},{"t":2012.44,"r":-0.6,"b":"LP"},{"t":2012.44,"r":1.5,"b":"LP"},{"t":2012.44,"r":3.8,"b":"LP"},
{"t":2012.56,"r":-3.8,"b":"LP"},{"t":2012.56,"r":-1.4,"b":"LP"},{"t":2012.56,"r":1,"b":"LP"},{"t":2012.56,"r":3.3,"b":"LP"},{"t":2012.56,"r":5.6,"b":"LP"},
{"t":2012.68,"r":-4.7,"b":"LP"},{"t":2012.68,"r":-2.2,"b":"LP"},{"t":2012.68,"r":0.1,"b":"LP"},{"t":2012.68,"r":2.4,"b":"LP"},{"t":2012.68,"r":4.9,"b":"LP"},
{"t":2012.8,"r":-4.9,"b":"LP"},{"t":2012.8,"r":-2.7,"b":"LP"},{"t":2012.8,"r":-0.2,"b":"LP"},{"t":2012.8,"r":2,"b":"LP"},{"t":2012.8,"r":4.2,"b":"LP"},
{"t":2012.92,"r":-4.3,"b":"LP"},{"t":2012.92,"r":-1.9,"b":"LP"},{"t":2012.92,"r":0.5,"b":"LP"},{"t":2012.92,"r":2.8,"b":"LP"},{"t":2012.92,"r":5.3,"b":"LP"},
{"t":2013.04,"r":-5.2,"b":"LP"},{"t":2013.04,"r":-2.8,"b":"LP"},{"t":2013.04,"r":-0.7,"b":"LP"},{"t":2013.04,"r":1.7,"b":"LP"},{"t":2013.04,"r":4,"b":"LP"},
{"t":2013.16,"r":-4,"b":"LP"},{"t":2013.16,"r":-1.6,"b":"LP"},{"t":2013.16,"r":0.8,"b":"LP"},{"t":2013.16,"r":3.1,"b":"LP"},{"t":2013.16,"r":5.4,"b":"LP"},
{"t":2013.28,"r":-4.5,"b":"LP"},{"t":2013.28,"r":-2,"b":"LP"},{"t":2013.28,"r":0.3,"b":"LP"},{"t":2013.28,"r":2.6,"b":"LP"},{"t":2013.28,"r":4.7,"b":"LP"},
{"t":2013.4,"r":-5,"b":"LP"},{"t":2013.4,"r":-2.4,"b":"LP"},{"t":2013.4,"r":-0.1,"b":"LP"},{"t":2013.4,"r":2.2,"b":"LP"},{"t":2013.4,"r":4.5,"b":"LP"},
{"t":2013.52,"r":-4.4,"b":"LP"},{"t":2013.52,"r":-1.9,"b":"LP"},{"t":2013.52,"r":0.4,"b":"LP"},{"t":2013.52,"r":2.7,"b":"LP"},{"t":2013.52,"r":5,"b":"LP"},
{"t":2013.64,"r":-5.5,"b":"LP"},{"t":2013.64,"r":-3.1,"b":"LP"},{"t":2013.64,"r":-0.8,"b":"LP"},{"t":2013.64,"r":1.4,"b":"LP"},{"t":2013.64,"r":3.7,"b":"LP"},
{"t":2013.76,"r":-3.7,"b":"LP"},{"t":2013.76,"r":-1.3,"b":"LP"},{"t":2013.76,"r":1.1,"b":"LP"},{"t":2013.76,"r":3.4,"b":"LP"},{"t":2013.76,"r":5.7,"b":"LP"},
{"t":2013.88,"r":-4.8,"b":"LP"},{"t":2013.88,"r":-2.3,"b":"LP"},{"t":2013.88,"r":0,"b":"LP"},{"t":2013.88,"r":2.3,"b":"LP"},{"t":2013.88,"r":4.6,"b":"LP"},
{"t":2014,"r":-5.2,"b":"LP"},{"t":2014,"r":-2.6,"b":"LP"},{"t":2014,"r":-0.4,"b":"LP"},{"t":2014,"r":1.8,"b":"LP"},{"t":2014,"r":4.1,"b":"LP"},
{"t":2014.12,"r":-4.2,"b":"LP"},{"t":2014.12,"r":-1.7,"b":"LP"},{"t":2014.12,"r":0.7,"b":"LP"},{"t":2014.12,"r":3,"b":"LP"},{"t":2014.12,"r":5.2,"b":"LP"},
{"t":2014.24,"r":-5.3,"b":"LP"},{"t":2014.24,"r":-2.9,"b":"LP"},{"t":2014.24,"r":-0.5,"b":"LP"},{"t":2014.24,"r":1.6,"b":"LP"},{"t":2014.24,"r":3.9,"b":"LP"},
{"t":2014.36,"r":-3.9,"b":"LP"},{"t":2014.36,"r":-1.5,"b":"LP"},{"t":2014.36,"r":0.9,"b":"LP"},{"t":2014.36,"r":3.2,"b":"LP"},{"t":2014.36,"r":5.5,"b":"LP"},
{"t":2014.48,"r":-4.6,"b":"LP"},{"t":2014.48,"r":-2.2,"b":"LP"},{"t":2014.48,"r":0.2,"b":"LP"},{"t":2014.48,"r":2.5,"b":"LP"},{"t":2014.48,"r":4.8,"b":"LP"},
{"t":2014.6,"r":-5,"b":"LP"},{"t":2014.6,"r":-2.6,"b":"LP"},{"t":2014.6,"r":-0.3,"b":"LP"},{"t":2014.6,"r":1.9,"b":"LP"},{"t":2014.6,"r":4.3,"b":"LP"},
{"t":2014.72,"r":-4.1,"b":"LP"},{"t":2014.72,"r":-1.8,"b":"LP"},{"t":2014.72,"r":0.6,"b":"LP"},{"t":2014.72,"r":2.9,"b":"LP"},{"t":2014.72,"r":5.1,"b":"LP"},
{"t":2014.84,"r":-5.4,"b":"LP"},{"t":2014.84,"r":-2.9,"b":"LP"},{"t":2014.84,"r":-0.6,"b":"LP"},{"t":2014.84,"r":1.6,"b":"LP"},{"t":2014.84,"r":3.8,"b":"LP"},
{"t":2014.96,"r":-3.8,"b":"LP"},{"t":2014.96,"r":-1.5,"b":"LP"},{"t":2014.96,"r":0.9,"b":"LP"},{"t":2014.96,"r":3.2,"b":"LP"},{"t":2014.96,"r":5.6,"b":"LP"},
{"t":2015.08,"r":-4.7,"b":"LP"},{"t":2015.08,"r":-2.1,"b":"LP"},{"t":2015.08,"r":0.2,"b":"LP"},{"t":2015.08,"r":2.6,"b":"LP"},{"t":2015.08,"r":4.8,"b":"LP"},
{"t":2015.2,"r":-5.1,"b":"LP"},{"t":2015.2,"r":-2.6,"b":"LP"},{"t":2015.2,"r":-0.2,"b":"LP"},{"t":2015.2,"r":1.9,"b":"LP"},{"t":2015.2,"r":4.4,"b":"LP"},
{"t":2015.32,"r":-4.2,"b":"LP"},{"t":2015.32,"r":-1.8,"b":"LP"},{"t":2015.32,"r":0.5,"b":"LP"},{"t":2015.32,"r":2.9,"b":"LP"},{"t":2015.32,"r":5.2,"b":"LP"},
{"t":2015.44,"r":-5.3,"b":"LP"},{"t":2015.44,"r":-3,"b":"LP"},{"t":2015.44,"r":-0.6,"b":"LP"},{"t":2015.44,"r":1.5,"b":"LP"},{"t":2015.44,"r":3.9,"b":"LP"},
{"t":2015.56,"r":-3.9,"b":"LP"},{"t":2015.56,"r":-1.4,"b":"LP"},{"t":2015.56,"r":0.9,"b":"LP"},{"t":2015.56,"r":3.3,"b":"LP"},{"t":2015.56,"r":5.5,"b":"LP"},
{"t":2015.68,"r":-4.6,"b":"LP"},{"t":2015.68,"r":-2.1,"b":"LP"},{"t":2015.68,"r":0.3,"b":"LP"},{"t":2015.68,"r":2.5,"b":"LP"},{"t":2015.68,"r":4.7,"b":"LP"},
{"t":2015.8,"r":-5,"b":"LP"},{"t":2015.8,"r":-2.5,"b":"LP"},{"t":2015.8,"r":-0.3,"b":"LP"},{"t":2015.8,"r":2,"b":"LP"},{"t":2015.8,"r":4.3,"b":"LP"},
{"t":2015.92,"r":-4.3,"b":"LP"},{"t":2015.92,"r":-1.8,"b":"LP"},{"t":2015.92,"r":0.6,"b":"LP"},{"t":2015.92,"r":2.8,"b":"LP"},{"t":2015.92,"r":5.2,"b":"LP"},
{"t":2016.04,"r":-5.2,"b":"LP"},{"t":2016.04,"r":-2.9,"b":"LP"},{"t":2016.04,"r":-0.5,"b":"LP"},{"t":2016.04,"r":1.6,"b":"LP"},{"t":2016.04,"r":4,"b":"LP"},
{"t":2016.16,"r":-3.8,"b":"LP"},{"t":2016.16,"r":-1.5,"b":"LP"},{"t":2016.16,"r":1,"b":"LP"},{"t":2016.16,"r":3.2,"b":"LP"},{"t":2016.16,"r":5.4,"b":"LP"},
{"t":2016.28,"r":-4.6,"b":"LP"},{"t":2016.28,"r":-2,"b":"LP"},{"t":2016.28,"r":0.2,"b":"LP"},{"t":2016.28,"r":2.4,"b":"LP"},{"t":2016.28,"r":4.9,"b":"LP"},
{"t":2016.4,"r":-5.1,"b":"LP"},{"t":2016.4,"r":-2.6,"b":"LP"},{"t":2016.4,"r":-0.3,"b":"LP"},{"t":2016.4,"r":1.8,"b":"LP"},{"t":2016.4,"r":4.3,"b":"LP"},
{"t":2016.52,"r":-4.1,"b":"LP"},{"t":2016.52,"r":-1.7,"b":"LP"},{"t":2016.52,"r":0.6,"b":"LP"},{"t":2016.52,"r":3,"b":"LP"},{"t":2016.52,"r":5.2,"b":"LP"},
{"t":2016.64,"r":-5.4,"b":"LP"},{"t":2016.64,"r":-2.9,"b":"LP"},{"t":2016.64,"r":-0.7,"b":"LP"},{"t":2016.64,"r":1.6,"b":"LP"},{"t":2016.64,"r":3.8,"b":"LP"},
{"t":2016.76,"r":-3.9,"b":"LP"},{"t":2016.76,"r":-1.5,"b":"LP"},{"t":2016.76,"r":0.8,"b":"LP"},{"t":2016.76,"r":3.2,"b":"LP"},{"t":2016.76,"r":5.6,"b":"LP"},
{"t":2016.88,"r":-4.7,"b":"LP"},{"t":2016.88,"r":-2.2,"b":"LP"},{"t":2016.88,"r":0.1,"b":"LP"},{"t":2016.88,"r":2.5,"b":"LP"},{"t":2016.88,"r":4.8,"b":"LP"},
{"t":2017,"r":-5,"b":"LP"},{"t":2017,"r":-2.6,"b":"LP"},{"t":2017,"r":-0.2,"b":"LP"},{"t":2017,"r":1.9,"b":"LP"},{"t":2017,"r":4.4,"b":"LP"},
{"t":2017.12,"r":-4.2,"b":"LP"},{"t":2017.12,"r":-1.8,"b":"LP"},{"t":2017.12,"r":0.6,"b":"LP"},{"t":2017.12,"r":2.9,"b":"LP"},{"t":2017.12,"r":5.1,"b":"LP"},
{"t":2017.24,"r":-5.3,"b":"LP"},{"t":2017.24,"r":-2.8,"b":"LP"},{"t":2017.24,"r":-0.6,"b":"LP"},{"t":2017.24,"r":1.7,"b":"LP"},{"t":2017.24,"r":3.9,"b":"LP"},
{"t":2017.36,"r":-3.9,"b":"LP"},{"t":2017.36,"r":-1.5,"b":"LP"},{"t":2017.36,"r":0.9,"b":"LP"},{"t":2017.36,"r":3.1,"b":"LP"},{"t":2017.36,"r":5.5,"b":"LP"},
{"t":2017.41,"r":-4.4,"b":"LP"},{"t":2017.41,"r":-1.9,"b":"LP"},{"t":2017.41,"r":0.4,"b":"LP"},{"t":2017.41,"r":2.7,"b":"LP"},
{"t":2012.14,"r":-3.4,"b":"LP"},{"t":2012.14,"r":-1,"b":"LP"},{"t":2012.14,"r":1.3,"b":"LP"},{"t":2012.14,"r":3.6,"b":"LP"},
{"t":2012.26,"r":-3.8,"b":"LP"},{"t":2012.26,"r":-1.3,"b":"LP"},{"t":2012.26,"r":1,"b":"LP"},{"t":2012.26,"r":3.3,"b":"LP"},
{"t":2012.38,"r":-3,"b":"LP"},{"t":2012.38,"r":-0.7,"b":"LP"},{"t":2012.38,"r":1.6,"b":"LP"},{"t":2012.38,"r":4,"b":"LP"},
{"t":2012.5,"r":-3.6,"b":"LP"},{"t":2012.5,"r":-1.1,"b":"LP"},{"t":2012.5,"r":1.2,"b":"LP"},{"t":2012.5,"r":3.7,"b":"LP"},
{"t":2012.62,"r":-3.3,"b":"LP"},{"t":2012.62,"r":-0.9,"b":"LP"},{"t":2012.62,"r":1.4,"b":"LP"},{"t":2012.62,"r":3.5,"b":"LP"},
{"t":2012.74,"r":-3.9,"b":"LP"},{"t":2012.74,"r":-1.4,"b":"LP"},{"t":2012.74,"r":0.9,"b":"LP"},{"t":2012.74,"r":3.2,"b":"LP"},
{"t":2012.86,"r":-3.1,"b":"LP"},{"t":2012.86,"r":-0.6,"b":"LP"},{"t":2012.86,"r":1.7,"b":"LP"},{"t":2012.86,"r":4.1,"b":"LP"},
{"t":2012.98,"r":-3.5,"b":"LP"},{"t":2012.98,"r":-1.2,"b":"LP"},{"t":2012.98,"r":1.1,"b":"LP"},{"t":2012.98,"r":3.8,"b":"LP"},
{"t":2013.1,"r":-3.4,"b":"LP"},{"t":2013.1,"r":-1,"b":"LP"},{"t":2013.1,"r":1.3,"b":"LP"},{"t":2013.1,"r":3.6,"b":"LP"},
{"t":2013.22,"r":-3.8,"b":"LP"},{"t":2013.22,"r":-1.3,"b":"LP"},{"t":2013.22,"r":1,"b":"LP"},{"t":2013.22,"r":3.3,"b":"LP"},
{"t":2013.34,"r":-3,"b":"LP"},{"t":2013.34,"r":-0.7,"b":"LP"},{"t":2013.34,"r":1.6,"b":"LP"},{"t":2013.34,"r":4,"b":"LP"},
{"t":2013.46,"r":-3.6,"b":"LP"},{"t":2013.46,"r":-1.1,"b":"LP"},{"t":2013.46,"r":1.2,"b":"LP"},{"t":2013.46,"r":3.7,"b":"LP"},
{"t":2013.58,"r":-3.3,"b":"LP"},{"t":2013.58,"r":-0.9,"b":"LP"},{"t":2013.58,"r":1.4,"b":"LP"},{"t":2013.58,"r":3.5,"b":"LP"},
{"t":2013.7,"r":-3.9,"b":"LP"},{"t":2013.7,"r":-1.4,"b":"LP"},{"t":2013.7,"r":0.9,"b":"LP"},{"t":2013.7,"r":3.2,"b":"LP"},
{"t":2013.82,"r":-3.1,"b":"LP"},{"t":2013.82,"r":-0.6,"b":"LP"},{"t":2013.82,"r":1.7,"b":"LP"},{"t":2013.82,"r":4.1,"b":"LP"},
{"t":2013.94,"r":-3.5,"b":"LP"},{"t":2013.94,"r":-1.2,"b":"LP"},{"t":2013.94,"r":1.1,"b":"LP"},{"t":2013.94,"r":3.8,"b":"LP"},
{"t":2014.06,"r":-3.4,"b":"LP"},{"t":2014.06,"r":-1,"b":"LP"},{"t":2014.06,"r":1.3,"b":"LP"},{"t":2014.06,"r":3.6,"b":"LP"},
{"t":2014.18,"r":-3.8,"b":"LP"},{"t":2014.18,"r":-1.3,"b":"LP"},{"t":2014.18,"r":1,"b":"LP"},{"t":2014.18,"r":3.3,"b":"LP"},
{"t":2014.3,"r":-3,"b":"LP"},{"t":2014.3,"r":-0.7,"b":"LP"},{"t":2014.3,"r":1.6,"b":"LP"},{"t":2014.3,"r":4,"b":"LP"},
{"t":2014.42,"r":-3.6,"b":"LP"},{"t":2014.42,"r":-1.1,"b":"LP"},{"t":2014.42,"r":1.2,"b":"LP"},{"t":2014.42,"r":3.7,"b":"LP"},
{"t":2014.54,"r":-3.3,"b":"LP"},{"t":2014.54,"r":-0.9,"b":"LP"},{"t":2014.54,"r":1.4,"b":"LP"},{"t":2014.54,"r":3.5,"b":"LP"},
{"t":2014.66,"r":-3.9,"b":"LP"},{"t":2014.66,"r":-1.4,"b":"LP"},{"t":2014.66,"r":0.9,"b":"LP"},{"t":2014.66,"r":3.2,"b":"LP"},
{"t":2014.78,"r":-3.1,"b":"LP"},{"t":2014.78,"r":-0.6,"b":"LP"},{"t":2014.78,"r":1.7,"b":"LP"},{"t":2014.78,"r":4.1,"b":"LP"},
{"t":2014.9,"r":-3.5,"b":"LP"},{"t":2014.9,"r":-1.2,"b":"LP"},{"t":2014.9,"r":1.1,"b":"LP"},{"t":2014.9,"r":3.8,"b":"LP"},
{"t":2015.02,"r":-3.4,"b":"LP"},{"t":2015.02,"r":-1,"b":"LP"},{"t":2015.02,"r":1.3,"b":"LP"},{"t":2015.02,"r":3.6,"b":"LP"},
{"t":2015.14,"r":-3.8,"b":"LP"},{"t":2015.14,"r":-1.3,"b":"LP"},{"t":2015.14,"r":1,"b":"LP"},{"t":2015.14,"r":3.3,"b":"LP"},
{"t":2015.26,"r":-3,"b":"LP"},{"t":2015.26,"r":-0.7,"b":"LP"},{"t":2015.26,"r":1.6,"b":"LP"},{"t":2015.26,"r":4,"b":"LP"},
{"t":2015.38,"r":-3.6,"b":"LP"},{"t":2015.38,"r":-1.1,"b":"LP"},{"t":2015.38,"r":1.2,"b":"LP"},{"t":2015.38,"r":3.7,"b":"LP"},
{"t":2015.5,"r":-3.3,"b":"LP"},{"t":2015.5,"r":-0.9,"b":"LP"},{"t":2015.5,"r":1.4,"b":"LP"},{"t":2015.5,"r":3.5,"b":"LP"},
{"t":2015.62,"r":-3.9,"b":"LP"},{"t":2015.62,"r":-1.4,"b":"LP"},{"t":2015.62,"r":0.9,"b":"LP"},{"t":2015.62,"r":3.2,"b":"LP"},
{"t":2015.74,"r":-3.1,"b":"LP"},{"t":2015.74,"r":-0.6,"b":"LP"},{"t":2015.74,"r":1.7,"b":"LP"},{"t":2015.74,"r":4.1,"b":"LP"},
{"t":2015.86,"r":-3.5,"b":"LP"},{"t":2015.86,"r":-1.2,"b":"LP"},{"t":2015.86,"r":1.1,"b":"LP"},{"t":2015.86,"r":3.8,"b":"LP"},
{"t":2015.98,"r":-3.4,"b":"LP"},{"t":2015.98,"r":-1,"b":"LP"},{"t":2015.98,"r":1.3,"b":"LP"},{"t":2015.98,"r":3.6,"b":"LP"},
{"t":2016.1,"r":-3.8,"b":"LP"},{"t":2016.1,"r":-1.3,"b":"LP"},{"t":2016.1,"r":1,"b":"LP"},{"t":2016.1,"r":3.3,"b":"LP"},
{"t":2016.22,"r":-3,"b":"LP"},{"t":2016.22,"r":-0.7,"b":"LP"},{"t":2016.22,"r":1.6,"b":"LP"},{"t":2016.22,"r":4,"b":"LP"},
{"t":2016.34,"r":-3.6,"b":"LP"},{"t":2016.34,"r":-1.1,"b":"LP"},{"t":2016.34,"r":1.2,"b":"LP"},{"t":2016.34,"r":3.7,"b":"LP"},
{"t":2016.46,"r":-3.3,"b":"LP"},{"t":2016.46,"r":-0.9,"b":"LP"},{"t":2016.46,"r":1.4,"b":"LP"},{"t":2016.46,"r":3.5,"b":"LP"},
{"t":2016.58,"r":-3.9,"b":"LP"},{"t":2016.58,"r":-1.4,"b":"LP"},{"t":2016.58,"r":0.9,"b":"LP"},{"t":2016.58,"r":3.2,"b":"LP"},
{"t":2016.7,"r":-3.1,"b":"LP"},{"t":2016.7,"r":-0.6,"b":"LP"},{"t":2016.7,"r":1.7,"b":"LP"},{"t":2016.7,"r":4.1,"b":"LP"},
{"t":2016.82,"r":-3.5,"b":"LP"},{"t":2016.82,"r":-1.2,"b":"LP"},{"t":2016.82,"r":1.1,"b":"LP"},{"t":2016.82,"r":3.8,"b":"LP"},
{"t":2016.94,"r":-3.4,"b":"LP"},{"t":2016.94,"r":-1,"b":"LP"},{"t":2016.94,"r":1.3,"b":"LP"},{"t":2016.94,"r":3.6,"b":"LP"},
{"t":2017.06,"r":-3.8,"b":"LP"},{"t":2017.06,"r":-1.3,"b":"LP"},{"t":2017.06,"r":1,"b":"LP"},{"t":2017.06,"r":3.3,"b":"LP"},
{"t":2017.18,"r":-3,"b":"LP"},{"t":2017.18,"r":-0.7,"b":"LP"},{"t":2017.18,"r":1.6,"b":"LP"},{"t":2017.18,"r":4,"b":"LP"},
{"t":2017.3,"r":-3.6,"b":"LP"},{"t":2017.3,"r":-1.1,"b":"LP"},{"t":2017.3,"r":1.2,"b":"LP"},{"t":2017.3,"r":3.7,"b":"LP"},
{"t":2012.99,"r":11.6,"b":"LP"},{"t":2013.7,"r":-7.2,"b":"LP"},{"t":2014.77,"r":13.2,"b":"LP"},{"t":2015.4,"r":-9,"b":"LP"},{"t":2015.55,"r":6.8,"b":"LP"},{"t":2016,"r":7.5,"b":"LP"},{"t":2017.13,"r":-10.5,"b":"LP"},
{"t":2006.22,"r":-1.5,"b":"R1"},{"t":2006.22,"r":0.5,"b":"R1"},{"t":2006.22,"r":2,"b":"R1"},{"t":2006.22,"r":-3,"b":"R1"},
{"t":2006.28,"r":0.8,"b":"R1"},{"t":2006.28,"r":-2.2,"b":"R1"},{"t":2006.28,"r":3.5,"b":"R1"},
{"t":2006.34,"r":-0.6,"b":"R1"},{"t":2006.34,"r":1.8,"b":"R1"},{"t":2006.34,"r":-3.8,"b":"R1"},{"t":2006.34,"r":2.6,"b":"R1"},
{"t":2006.4,"r":1.1,"b":"R1"},{"t":2006.4,"r":-0.9,"b":"R1"},{"t":2006.4,"r":4.2,"b":"R1"},
{"t":2006.46,"r":0.3,"b":"R1"},{"t":2006.46,"r":-1.4,"b":"R1"},{"t":2006.46,"r":2.2,"b":"R1"},{"t":2006.46,"r":-4.5,"b":"R1"},
{"t":2006.52,"r":-0.2,"b":"R1"},{"t":2006.52,"r":1,"b":"R1"},{"t":2006.52,"r":-2,"b":"R1"},
{"t":2006.68,"r":0.6,"b":"R1"},{"t":2006.68,"r":-1.8,"b":"R1"},{"t":2006.68,"r":2.9,"b":"R1"},{"t":2006.68,"r":-3.4,"b":"R1"},
{"t":2006.74,"r":-1.1,"b":"R1"},{"t":2006.74,"r":0.4,"b":"R1"},{"t":2006.74,"r":3.8,"b":"R1"},{"t":2006.74,"r":5.5,"b":"R1"},{"t":2006.74,"r":-6,"b":"R1"},
{"t":2006.8,"r":0.9,"b":"R1"},{"t":2006.8,"r":-2.1,"b":"R1"},{"t":2006.8,"r":7.8,"b":"R1"},{"t":2006.8,"r":-4.1,"b":"R1"},
{"t":2006.86,"r":-0.7,"b":"R1"},{"t":2006.86,"r":1.6,"b":"R1"},{"t":2006.86,"r":-2.9,"b":"R1"},
{"t":2006.92,"r":1.4,"b":"R1"},{"t":2006.92,"r":-1.2,"b":"R1"},{"t":2006.92,"r":4.6,"b":"R1"},{"t":2006.92,"r":-3.7,"b":"R1"},{"t":2006.92,"r":9.6,"b":"R1"},
{"t":2006.98,"r":0.2,"b":"R1"},{"t":2006.98,"r":-0.8,"b":"R1"},{"t":2006.98,"r":2.4,"b":"R1"},{"t":2006.98,"r":11.5,"b":"R1"},{"t":2006.98,"r":13.4,"b":"R1"},{"t":2006.98,"r":-9.2,"b":"R1"},
{"t":2007.04,"r":-1.3,"b":"R1"},{"t":2007.04,"r":0.7,"b":"R1"},{"t":2007.04,"r":3,"b":"R1"},{"t":2007.04,"r":-3.3,"b":"R1"},
{"t":2007.1,"r":0.5,"b":"R1"},{"t":2007.1,"r":-2.4,"b":"R1"},{"t":2007.1,"r":1.9,"b":"R1"},
{"t":2007.68,"r":-0.9,"b":"R1"},{"t":2007.68,"r":1.2,"b":"R1"},{"t":2007.68,"r":-2.7,"b":"R1"},{"t":2007.68,"r":3.6,"b":"R1"},
{"t":2007.74,"r":0.4,"b":"R1"},{"t":2007.74,"r":-1.6,"b":"R1"},{"t":2007.74,"r":2.8,"b":"R1"},{"t":2007.74,"r":-3.1,"b":"R1"},{"t":2007.74,"r":5.2,"b":"R1"},
{"t":2007.8,"r":-0.3,"b":"R1"},{"t":2007.8,"r":1.9,"b":"R1"},{"t":2007.8,"r":-2.2,"b":"R1"},{"t":2007.8,"r":4,"b":"R1"},{"t":2007.8,"r":-6.4,"b":"R1"},
{"t":2007.86,"r":1,"b":"R1"},{"t":2007.86,"r":-0.6,"b":"R1"},{"t":2007.86,"r":2.5,"b":"R1"},{"t":2007.86,"r":-3.9,"b":"R1"},
{"t":2007.92,"r":-1.4,"b":"R1"},{"t":2007.92,"r":0.2,"b":"R1"},{"t":2007.92,"r":3.3,"b":"R1"},
{"t":2007.98,"r":0.7,"b":"R1"},{"t":2007.98,"r":-1.1,"b":"R1"},{"t":2007.98,"r":1.8,"b":"R1"},
{"t":2008.12,"r":-0.5,"b":"R1"},{"t":2008.12,"r":1.4,"b":"R1"},{"t":2008.12,"r":-2.6,"b":"R1"},{"t":2008.12,"r":3.7,"b":"R1"},{"t":2008.12,"r":6.9,"b":"R1"},{"t":2008.12,"r":-9.5,"b":"R1"},
{"t":2008.18,"r":0.8,"b":"R1"},{"t":2008.18,"r":-1.9,"b":"R1"},{"t":2008.18,"r":2.2,"b":"R1"},{"t":2008.18,"r":-3.4,"b":"R1"},{"t":2008.18,"r":5.8,"b":"R1"},
{"t":2008.24,"r":-0.2,"b":"R1"},{"t":2008.24,"r":1.1,"b":"R1"},{"t":2008.24,"r":-1.5,"b":"R1"},{"t":2008.24,"r":4.4,"b":"R1"},{"t":2008.24,"r":-11,"b":"R1"},{"t":2008.24,"r":-12.1,"b":"R1"},
{"t":2008.3,"r":0.6,"b":"R1"},{"t":2008.3,"r":-0.9,"b":"R1"},{"t":2008.3,"r":2.7,"b":"R1"},
{"t":2008.52,"r":1.2,"b":"R1"},{"t":2008.52,"r":-0.4,"b":"R1"},{"t":2008.52,"r":3.1,"b":"R1"},{"t":2008.52,"r":-2.3,"b":"R1"},{"t":2008.52,"r":12.6,"b":"R1"},
{"t":2008.58,"r":-0.8,"b":"R1"},{"t":2008.58,"r":0.5,"b":"R1"},{"t":2008.58,"r":2,"b":"R1"},{"t":2008.58,"r":-3.6,"b":"R1"},{"t":2008.58,"r":-12.9,"b":"R1"},
{"t":2008.64,"r":0.3,"b":"R1"},{"t":2008.64,"r":-1.5,"b":"R1"},{"t":2008.64,"r":1.7,"b":"R1"},
{"t":2008.92,"r":-0.6,"b":"R1"},{"t":2008.92,"r":1.3,"b":"R1"},{"t":2008.92,"r":-2.1,"b":"R1"},{"t":2008.92,"r":3.4,"b":"R1"},
{"t":2008.98,"r":0.9,"b":"R1"},{"t":2008.98,"r":-1.7,"b":"R1"},{"t":2008.98,"r":2.6,"b":"R1"},{"t":2008.98,"r":-3.8,"b":"R1"},
{"t":2009.04,"r":-0.4,"b":"R1"},{"t":2009.04,"r":0.8,"b":"R1"},{"t":2009.04,"r":-2.9,"b":"R1"},{"t":2009.04,"r":3.9,"b":"R1"},
{"t":2009.1,"r":1.1,"b":"R1"},{"t":2009.1,"r":-0.2,"b":"R1"},{"t":2009.1,"r":2.3,"b":"R1"},{"t":2009.1,"r":-1.6,"b":"R1"},
{"t":2009.16,"r":-1,"b":"R1"},{"t":2009.16,"r":0.6,"b":"R1"},{"t":2009.16,"r":3.6,"b":"R1"},{"t":2009.16,"r":-3.2,"b":"R1"},
{"t":2009.22,"r":0.4,"b":"R1"},{"t":2009.22,"r":-1.3,"b":"R1"},{"t":2009.22,"r":1.9,"b":"R1"},{"t":2009.22,"r":6.7,"b":"R1"},{"t":2009.22,"r":-10.8,"b":"R1"},
{"t":2009.28,"r":-0.7,"b":"R1"},{"t":2009.28,"r":1.5,"b":"R1"},{"t":2009.28,"r":-3.5,"b":"R1"},{"t":2009.28,"r":2.8,"b":"R1"},
{"t":2009.34,"r":0.2,"b":"R1"},{"t":2009.34,"r":-0.9,"b":"R1"},{"t":2009.34,"r":2.4,"b":"R1"},{"t":2009.34,"r":8.9,"b":"R1"},{"t":2009.34,"r":-12.4,"b":"R1"},
{"t":2009.4,"r":1.3,"b":"R1"},{"t":2009.4,"r":-1.8,"b":"R1"},{"t":2009.4,"r":3,"b":"R1"},{"t":2009.4,"r":-2.6,"b":"R1"},
{"t":2009.46,"r":-0.3,"b":"R1"},{"t":2009.46,"r":0.7,"b":"R1"},{"t":2009.46,"r":-1.4,"b":"R1"},{"t":2009.46,"r":4.1,"b":"R1"},{"t":2009.46,"r":10.2,"b":"R1"},
{"t":2009.52,"r":0.8,"b":"R1"},{"t":2009.52,"r":-1,"b":"R1"},{"t":2009.52,"r":2.2,"b":"R1"},{"t":2009.52,"r":-3.1,"b":"R1"},
{"t":2009.58,"r":-1.2,"b":"R1"},{"t":2009.58,"r":0.3,"b":"R1"},{"t":2009.58,"r":1.6,"b":"R1"},{"t":2009.58,"r":-2.8,"b":"R1"},
{"t":2009.64,"r":0.5,"b":"R1"},{"t":2009.64,"r":-0.6,"b":"R1"},{"t":2009.64,"r":2.9,"b":"R1"},{"t":2009.64,"r":-4,"b":"R1"},
{"t":2009.7,"r":-0.9,"b":"R1"},{"t":2009.7,"r":1.1,"b":"R1"},{"t":2009.7,"r":-2.3,"b":"R1"},{"t":2009.7,"r":12,"b":"R1"},
{"t":2009.76,"r":0.1,"b":"R1"},{"t":2009.76,"r":-1.6,"b":"R1"},{"t":2009.76,"r":2,"b":"R1"},
{"t":2009.82,"r":1,"b":"R1"},{"t":2009.82,"r":-0.5,"b":"R1"},{"t":2009.82,"r":3.8,"b":"R1"},{"t":2009.82,"r":-2.1,"b":"R1"},
{"t":2009.88,"r":-0.4,"b":"R1"},{"t":2009.88,"r":0.9,"b":"R1"},{"t":2009.88,"r":-1.9,"b":"R1"},{"t":2009.88,"r":2.5,"b":"R1"},
{"t":2009.94,"r":0.6,"b":"R1"},{"t":2009.94,"r":-1.2,"b":"R1"},{"t":2009.94,"r":1.7,"b":"R1"},{"t":2009.94,"r":-3.3,"b":"R1"},
{"t":2010,"r":-0.8,"b":"R1"},{"t":2010,"r":0.4,"b":"R1"},{"t":2010,"r":2.6,"b":"R1"},
{"t":2010.06,"r":0.3,"b":"R1"},{"t":2010.06,"r":-1.4,"b":"R1"},{"t":2010.06,"r":3.2,"b":"R1"},{"t":2010.06,"r":-3.9,"b":"R1"},
{"t":2010.12,"r":-0.1,"b":"R1"},{"t":2010.12,"r":1.2,"b":"R1"},{"t":2010.12,"r":-2.5,"b":"R1"},
{"t":2010.18,"r":0.9,"b":"R1"},{"t":2010.18,"r":-0.7,"b":"R1"},{"t":2010.18,"r":1.5,"b":"R1"},{"t":2010.18,"r":-3,"b":"R1"},
{"t":2010.24,"r":-1.1,"b":"R1"},{"t":2010.24,"r":0.5,"b":"R1"},{"t":2010.24,"r":2.8,"b":"R1"},
{"t":2010.3,"r":0.2,"b":"R1"},{"t":2010.3,"r":-1,"b":"R1"},{"t":2010.3,"r":1.9,"b":"R1"},{"t":2010.3,"r":-3.5,"b":"R1"},
{"t":2010.36,"r":-0.5,"b":"R1"},{"t":2010.36,"r":1.4,"b":"R1"},{"t":2010.36,"r":-1.8,"b":"R1"},
{"t":2010.42,"r":0.7,"b":"R1"},{"t":2010.42,"r":-0.3,"b":"R1"},{"t":2010.42,"r":2.3,"b":"R1"},{"t":2010.42,"r":-4.3,"b":"R1"},
{"t":2010.48,"r":-0.9,"b":"R1"},{"t":2010.48,"r":0.8,"b":"R1"},{"t":2010.48,"r":-2.7,"b":"R1"},{"t":2010.48,"r":8.1,"b":"R1"},
{"t":2010.54,"r":0.4,"b":"R1"},{"t":2010.54,"r":-1.5,"b":"R1"},{"t":2010.54,"r":1.6,"b":"R1"},
{"t":2010.6,"r":-0.2,"b":"R1"},{"t":2010.6,"r":1,"b":"R1"},{"t":2010.6,"r":2.5,"b":"R1"},{"t":2010.6,"r":-9,"b":"R1"},
{"t":2010.66,"r":0.6,"b":"R1"},{"t":2010.66,"r":-0.8,"b":"R1"},{"t":2010.66,"r":3.4,"b":"R1"},
{"t":2010.72,"r":-1.3,"b":"R1"},{"t":2010.72,"r":0.1,"b":"R1"},{"t":2010.72,"r":1.8,"b":"R1"},
{"t":2010.78,"r":0.8,"b":"R1"},{"t":2010.78,"r":-0.6,"b":"R1"},{"t":2010.78,"r":-3.7,"b":"R1"},
{"t":2010.84,"r":-0.4,"b":"R1"},{"t":2010.84,"r":1.3,"b":"R1"},{"t":2010.84,"r":3.9,"b":"R1"},
{"t":2010.9,"r":0.3,"b":"R1"},{"t":2010.9,"r":-1.1,"b":"R1"},
{"t":2010.96,"r":-0.7,"b":"R1"},{"t":2010.96,"r":0.9,"b":"R1"},{"t":2010.96,"r":2.7,"b":"R1"},
{"t":2011.02,"r":0.5,"b":"R1"},{"t":2011.02,"r":-0.4,"b":"R1"}
]},
"resolve":{"scale":{"x":"independent","y":"independent","color":"independent"},"axis":{"x":"independent","y":"independent"}},
"layer":[
{"data":{"name":"strips"},"mark":{"type":"rect","fill":"#a5dbfb"},
 "encoding":{"x":{"field":"x0","type":"quantitative","scale":{"domain":[0,1476],"range":[0,1476],"nice":false,"zero":false},"axis":null},"x2":{"field":"x1"},
 "y":{"field":"y0","type":"quantitative","scale":{"domain":[0,807],"range":[0,807],"nice":false,"zero":false},"axis":null},"y2":{"field":"y1"}}},
{"data":{"values":[{"r":0}]},"mark":{"type":"rule","strokeDash":[7,4],"strokeWidth":1.7,"color":"#111111"},
 "encoding":{"x":{"datum":2004.47,"type":"quantitative","scale":{"domain":[2004.47,2018.02],"range":[322.7,1036.7],"nice":false,"zero":false},
   "axis":{"orient":"top","offset":-48.3,"domain":true,"domainColor":"#333333","domainWidth":1.3,"ticks":false,"labels":false,"title":null,"zindex":0}},
  "x2":{"datum":2018.02},
  "y":{"field":"r","type":"quantitative","scale":{"domain":[-48.9,47.3],"range":[266.7,48.3],"nice":false,"zero":false},
   "axis":{"orient":"right","offset":-439.3,"domain":true,"domainColor":"#333333","domainWidth":1.3,"ticks":false,"labels":false,"title":null,"zindex":0}}}},
{"data":{"name":"toa"},"mark":{"type":"point","shape":"square","filled":true,"size":14,"opacity":1,"strokeWidth":0},
 "encoding":{"x":{"field":"t","type":"quantitative","scale":{"domain":[2004.47,2018.02],"range":[322.7,1036.7],"nice":false,"zero":false},
   "axis":{"orient":"bottom","offset":-540.3,"values":[2006,2008],"format":"d","tickSize":6.7,"tickColor":"#333333","tickWidth":1.3,"domain":true,"domainColor":"#333333","domainWidth":1.3,"labelFontSize":16.5,"labelColor":"#262626","labelPadding":4,"labelFlush":false,"title":null,"zindex":0}},
  "y":{"field":"r","type":"quantitative","scale":{"domain":[-48.9,47.3],"range":[266.7,48.3],"nice":false,"zero":false},
   "axis":{"orient":"left","offset":-322.7,"values":[-40,-20,0,20,40],"tickSize":6.7,"tickColor":"#333333","tickWidth":1.3,"domain":true,"domainColor":"#333333","domainWidth":1.3,"labelFontSize":16.5,"labelColor":"#262626","labelPadding":5.5,"title":"Residual (μs)","titleFontSize":17,"titleColor":"#262626","titleX":-66.7,"titleY":157,"titleAngle":270,"titleAlign":"center","titleBaseline":"middle","zindex":0}},
  "color":{"field":"b","type":"nominal","scale":{"domain":["G8","O8","SA","R2","LA","SP","LP","R1"],"range":["#1f77b4","#ff7f0e","#2ca02c","#d62728","#9467bd","#8c564b","#e377c2","#7f7f7f"]},"legend":null}}},
{"data":{"values":[{"txt":"PSR J1713+0747 Individual TOAs"}]},"mark":{"type":"text","fontSize":20.5,"color":"#1a1a1a","align":"center","baseline":"alphabetic"},
 "encoding":{"text":{"field":"txt","type":"nominal"},"x":{"datum":679,"type":"quantitative","scale":{"domain":[0,1476],"range":[0,1476],"nice":false,"zero":false},"axis":null},
  "y":{"datum":38.3,"type":"quantitative","scale":{"domain":[0,807],"range":[0,807],"nice":false,"zero":false},"axis":null}}},
{"data":{"values":[{"k":1}]},"mark":{"type":"rect","fill":"#ffffff","stroke":"#d9d9d9","strokeWidth":1,"cornerRadius":4},
 "encoding":{"x":{"datum":1082,"type":"quantitative","scale":{"domain":[0,1476],"range":[0,1476],"nice":false,"zero":false},"axis":null},"x2":{"datum":1285},
  "y":{"datum":183,"type":"quantitative","scale":{"domain":[0,807],"range":[0,807],"nice":false,"zero":false},"axis":null},"y2":{"datum":300}}},
{"data":{"name":"legend"},"mark":{"type":"point","shape":"square","filled":true,"size":14,"opacity":1,"strokeWidth":0},
 "encoding":{"x":{"datum":1105,"type":"quantitative","scale":{"domain":[0,1476],"range":[0,1476],"nice":false,"zero":false},"axis":null},
  "y":{"field":"name","type":"ordinal","scale":{"type":"point","domain":["Rcvr_800_GUPPI","Rcvr_800_GASP","S-wide_ASP"],"range":[196.7,247.7],"padding":0},"axis":null},
  "color":{"field":"b","type":"nominal","scale":{"domain":["G8","O8","SA","R2","LA","SP","LP","R1"],"range":["#1f77b4","#ff7f0e","#2ca02c","#d62728","#9467bd","#8c564b","#e377c2","#7f7f7f"]},"legend":null}}},
{"data":{"name":"legend"},"mark":{"type":"text","fontSize":16,"color":"#262626","align":"left","baseline":"middle"},
 "encoding":{"text":{"field":"name","type":"nominal"},"x":{"datum":1137,"type":"quantitative","scale":{"domain":[0,1476],"range":[0,1476],"nice":false,"zero":false},"axis":null},
  "y":{"field":"name","type":"ordinal","scale":{"type":"point","domain":["Rcvr_800_GUPPI","Rcvr_800_GASP","S-wide_ASP"],"range":[196.7,247.7],"padding":0},"axis":null}}},
{"data":{"name":"s2"},"mark":{"type":"rule","strokeWidth":1.6},
 "encoding":{"x":{"field":"t","type":"quantitative","scale":{"domain":[2004.47,2018.02],"range":[322.7,1036.7],"nice":false,"zero":false},
   "axis":{"orient":"top","offset":-356.7,"domain":true,"domainColor":"#333333","domainWidth":1.3,"ticks":false,"labels":false,"title":null,"zindex":0}},
  "y":{"field":"lo","type":"quantitative","scale":{"domain":[0,1.5],"range":[465.6,356.7],"nice":false,"zero":false},
   "axis":{"orient":"left","offset":-322.7,"values":[0.5,1,1.5],"format":".1f","tickSize":6.7,"tickColor":"#333333","tickWidth":1.3,"domain":true,"domainColor":"#333333","domainWidth":1.3,"labelFontSize":16.5,"labelColor":"#262626","labelPadding":5.5,"title":null,"zindex":0}},
  "y2":{"field":"hi"},
  "color":{"field":"b","type":"nominal","scale":{"domain":["G8","O8","SA","R2","LA","SP","LP","R1"],"range":["#1f77b4","#ff7f0e","#2ca02c","#d62728","#9467bd","#8c564b","#e377c2","#7f7f7f"]},"legend":null}}},
{"data":{"name":"s2"},"transform":[{"filter":"datum.hi < 1.5"}],"mark":{"type":"tick","orient":"horizontal","size":10,"thickness":1.6,"opacity":1},
 "encoding":{"x":{"field":"t","type":"quantitative","scale":{"domain":[2004.47,2018.02],"range":[322.7,1036.7],"nice":false,"zero":false},"axis":null},
  "y":{"field":"hi","type":"quantitative","scale":{"domain":[0,1.5],"range":[465.6,356.7],"nice":false,"zero":false},"axis":null},
  "color":{"field":"b","type":"nominal","scale":{"domain":["G8","O8","SA","R2","LA","SP","LP","R1"],"range":["#1f77b4","#ff7f0e","#2ca02c","#d62728","#9467bd","#8c564b","#e377c2","#7f7f7f"]},"legend":null}}},
{"data":{"values":[{"txt":"PSR J1713+0747 Averaged TOAs"}]},"mark":{"type":"text","fontSize":20.5,"color":"#1a1a1a","align":"left","baseline":"alphabetic"},
 "encoding":{"text":{"field":"txt","type":"nominal"},"x":{"datum":484,"type":"quantitative","scale":{"domain":[0,1476],"range":[0,1476],"nice":false,"zero":false},"axis":null},
  "y":{"datum":346,"type":"quantitative","scale":{"domain":[0,807],"range":[0,807],"nice":false,"zero":false},"axis":null}}},
{"data":{"name":"rpanel"},"mark":{"type":"rect","fill":"#ffffff","stroke":"#3a68a8","strokeWidth":3.5},
 "encoding":{"x":{"field":"x0","type":"quantitative","scale":{"domain":[0,1476],"range":[0,1476],"nice":false,"zero":false},"axis":null},"x2":{"field":"x1"},
 "y":{"field":"y0","type":"quantitative","scale":{"domain":[0,807],"range":[0,807],"nice":false,"zero":false},"axis":null},"y2":{"field":"y1"}}},
{"data":{"name":"curves"},"mark":{"type":"line","interpolate":"monotone","strokeWidth":5,"strokeCap":"round"},
 "encoding":{"x":{"field":"t","type":"quantitative","scale":{"domain":[0,10],"range":[684,1390],"nice":false,"zero":false},"axis":null},
  "y":{"field":"r","type":"quantitative","scale":{"domain":[0,54.1],"range":[807,266],"nice":false,"zero":false},"axis":null},
  "color":{"field":"s","type":"nominal","scale":{"domain":["Stochastic","Continuous","Burst"],"range":["#e3000f","#0e9a0e","#0000e0"]},"legend":null}}},
{"data":{"name":"burst"},"mark":{"type":"line","interpolate":"linear","strokeWidth":4.5,"strokeCap":"round"},
 "encoding":{"x":{"field":"t","type":"quantitative","scale":{"domain":[0,10],"range":[684,1390],"nice":false,"zero":false},"axis":null},
  "y":{"field":"r","type":"quantitative","scale":{"domain":[0,54.1],"range":[807,266],"nice":false,"zero":false},"axis":null},
  "color":{"field":"s","type":"nominal","scale":{"domain":["Stochastic","Continuous","Burst"],"range":["#e3000f","#0e9a0e","#0000e0"]},"legend":null}}},
{"data":{"name":"boldtxt"},"mark":{"type":"text","font":"DejaVu Serif","fontWeight":"bold","fontSize":33,"color":"#111111","align":"right","baseline":"alphabetic"},
 "encoding":{"text":{"field":"txt","type":"nominal"},"x":{"field":"t","type":"quantitative","scale":{"domain":[0,10],"range":[684,1390],"nice":false,"zero":false},"axis":null},
  "y":{"field":"r","type":"quantitative","scale":{"domain":[0,54.1],"range":[807,266],"nice":false,"zero":false},"axis":null}}},
{"data":{"name":"normtxt"},"mark":{"type":"text","font":"DejaVu Serif","fontSize":29.5,"color":"#111111","align":"left","baseline":"alphabetic"},
 "encoding":{"text":{"field":"txt","type":"nominal"},"x":{"field":"t","type":"quantitative","scale":{"domain":[0,10],"range":[684,1390],"nice":false,"zero":false},"axis":null},
  "y":{"field":"r","type":"quantitative","scale":{"domain":[0,54.1],"range":[807,266],"nice":false,"zero":false},"axis":null}}},
{"data":{"name":"axlab"},"mark":{"type":"text","font":"DejaVu Serif","fontWeight":"bold","fontSize":27,"color":"#111111","align":"right","baseline":"alphabetic"},
 "encoding":{"text":{"field":"txt","type":"nominal"},"x":{"field":"t","type":"quantitative","scale":{"domain":[0,10],"range":[684,1390],"nice":false,"zero":false},"axis":null},
  "y":{"field":"r","type":"quantitative","scale":{"domain":[0,54.1],"range":[807,266],"nice":false,"zero":false},"axis":null}}},
{"data":{"name":"harrow"},"mark":{"type":"text","font":"DejaVu Sans","fontSize":28,"color":"#111111","align":"right","baseline":"alphabetic"},
 "encoding":{"text":{"field":"txt","type":"nominal"},"x":{"field":"t","type":"quantitative","scale":{"domain":[0,10],"range":[684,1390],"nice":false,"zero":false},"axis":null},
  "y":{"field":"r","type":"quantitative","scale":{"domain":[0,54.1],"range":[807,266],"nice":false,"zero":false},"axis":null}}},
{"data":{"name":"ylab"},"mark":{"type":"text","font":"DejaVu Serif","fontWeight":"bold","fontSize":22,"color":"#111111","align":"right","baseline":"alphabetic","angle":270},
 "encoding":{"text":{"field":"txt","type":"nominal"},"x":{"field":"t","type":"quantitative","scale":{"domain":[0,10],"range":[684,1390],"nice":false,"zero":false},"axis":null},
  "y":{"field":"r","type":"quantitative","scale":{"domain":[0,54.1],"range":[807,266],"nice":false,"zero":false},"axis":null}}},
{"data":{"name":"varrow"},"mark":{"type":"text","font":"DejaVu Sans","fontSize":28,"color":"#111111","align":"right","baseline":"alphabetic","angle":270},
 "encoding":{"text":{"field":"txt","type":"nominal"},"x":{"field":"t","type":"quantitative","scale":{"domain":[0,10],"range":[684,1390],"nice":false,"zero":false},"axis":null},
  "y":{"field":"r","type":"quantitative","scale":{"domain":[0,54.1],"range":[807,266],"nice":false,"zero":false},"axis":null}}},
{"data":{"name":"pointer"},"mark":{"type":"line","color":"#3a68a8","strokeWidth":4},
 "encoding":{"x":{"field":"px","type":"quantitative","scale":{"domain":[0,1476],"range":[0,1476],"nice":false,"zero":false},"axis":null},
  "y":{"field":"py","type":"quantitative","scale":{"domain":[0,807],"range":[0,807],"nice":false,"zero":false},"axis":null}}},
{"data":{"name":"head"},"mark":{"type":"point","shape":"triangle-up","filled":true,"size":170,"angle":294,"color":"#3a68a8","opacity":1,"strokeWidth":0},
 "encoding":{"x":{"field":"px","type":"quantitative","scale":{"domain":[0,1476],"range":[0,1476],"nice":false,"zero":false},"axis":null},
  "y":{"field":"py","type":"quantitative","scale":{"domain":[0,807],"range":[0,807],"nice":false,"zero":false},"axis":null}}},
{"data":{"name":"hdpanel"},"mark":{"type":"rect","fill":"#ffffff","stroke":"#3a68a8","strokeWidth":4},
 "encoding":{"x":{"field":"x0","type":"quantitative","scale":{"domain":[0,1476],"range":[0,1476],"nice":false,"zero":false},"axis":null},"x2":{"field":"x1"},
 "y":{"field":"y0","type":"quantitative","scale":{"domain":[0,807],"range":[0,807],"nice":false,"zero":false},"axis":null},"y2":{"field":"y1"}}},
{"data":{"name":"hd"},"mark":{"type":"line","interpolate":"monotone","color":"#e41a1c","strokeWidth":1.6},
 "encoding":{"x":{"field":"a","type":"quantitative","scale":{"domain":[-9,189],"range":[109.3,838.3],"nice":false,"zero":false},
   "axis":{"orient":"bottom","offset":-86.3,"values":[0,50,100,150],"ticks":false,"domain":true,"domainColor":"#444444","domainWidth":1.3,"labelFont":"DejaVu Sans","labelFontSize":17,"labelColor":"#333333","labelPadding":10,"labelFlush":false,"title":"Angle between pulsars (degrees)","titleFont":"DejaVu Serif","titleFontSize":27,"titleColor":"#222222","titleY":56,"titleBaseline":"alphabetic","zindex":1}},
  "y":{"field":"c","type":"quantitative","scale":{"domain":[-0.1856,0.531],"range":[720.7,432.3],"nice":false,"zero":false},
   "axis":{"orient":"left","offset":-109.3,"values":[0,0.2,0.4],"format":"~g","ticks":false,"domain":true,"domainColor":"#444444","domainWidth":1.3,"labelFont":"DejaVu Sans","labelFontSize":17,"labelColor":"#333333","labelPadding":10,"title":"Arrival time correlation","titleFont":"DejaVu Serif","titleFontSize":27,"titleColor":"#222222","titleX":-64.3,"titleY":582.5,"titleAngle":270,"titleAlign":"center","titleBaseline":"middle","zindex":1}}}},
{"data":{"name":"hd"},"mark":{"type":"line","strokeOpacity":0},
 "encoding":{"x":{"field":"a","type":"quantitative","scale":{"domain":[-9,189],"range":[109.3,838.3],"nice":false,"zero":false},
   "axis":{"orient":"top","offset":-720.7,"values":[0,50,100,150],"domain":false,"labels":false,"tickSize":11,"tickColor":"#444444","tickWidth":1.3,"title":null,"zindex":1}},
  "y":{"field":"c","type":"quantitative","scale":{"domain":[-0.1856,0.531],"range":[720.7,432.3],"nice":false,"zero":false},
   "axis":{"orient":"right","offset":-1366.7,"values":[0,0.2,0.4],"domain":false,"labels":false,"tickSize":12,"tickColor":"#444444","tickWidth":1.3,"title":null,"zindex":1}}}},
{"data":{"name":"hd"},"mark":{"type":"line","strokeOpacity":0},
 "encoding":{"x":{"field":"a","type":"quantitative","scale":{"domain":[-9,189],"range":[109.3,838.3],"nice":false,"zero":false},
   "axis":{"orient":"top","offset":-720.7,"values":[10,20,30,40,60,70,80,90,110,120,130,140,160,170,180],"domain":false,"labels":false,"tickSize":6,"tickColor":"#444444","tickWidth":1.3,"title":null,"zindex":1}},
  "y":{"field":"c","type":"quantitative","scale":{"domain":[-0.1856,0.531],"range":[720.7,432.3],"nice":false,"zero":false},
   "axis":{"orient":"right","offset":-1366.7,"values":[-0.15,-0.1,-0.05,0.05,0.1,0.15,0.25,0.3,0.35,0.45,0.5],"domain":false,"labels":false,"tickSize":6.5,"tickColor":"#444444","tickWidth":1.3,"title":null,"zindex":1}}}},
{"data":{"name":"hd"},"mark":{"type":"line","strokeOpacity":0},
 "encoding":{"x":{"field":"a","type":"quantitative","scale":{"domain":[-9,189],"range":[109.3,838.3],"nice":false,"zero":false},
   "axis":{"orient":"bottom","offset":-374.7,"values":[0,50,100,150],"domain":true,"domainColor":"#444444","domainWidth":1.3,"labels":false,"tickSize":11,"tickColor":"#444444","tickWidth":1.3,"title":null,"zindex":1}},
  "y":{"field":"c","type":"quantitative","scale":{"domain":[-0.1856,0.531],"range":[720.7,432.3],"nice":false,"zero":false},
   "axis":{"orient":"left","offset":-838.3,"values":[0,0.2,0.4],"domain":true,"domainColor":"#444444","domainWidth":1.3,"labels":false,"tickSize":12,"tickColor":"#444444","tickWidth":1.3,"title":null,"zindex":1}}}},
{"data":{"name":"hd"},"mark":{"type":"line","strokeOpacity":0},
 "encoding":{"x":{"field":"a","type":"quantitative","scale":{"domain":[-9,189],"range":[109.3,838.3],"nice":false,"zero":false},
   "axis":{"orient":"bottom","offset":-374.7,"values":[10,20,30,40,60,70,80,90,110,120,130,140,160,170,180],"domain":false,"labels":false,"tickSize":6,"tickColor":"#444444","tickWidth":1.3,"title":null,"zindex":1}},
  "y":{"field":"c","type":"quantitative","scale":{"domain":[-0.1856,0.531],"range":[720.7,432.3],"nice":false,"zero":false},
   "axis":{"orient":"left","offset":-838.3,"values":[-0.15,-0.1,-0.05,0.05,0.1,0.15,0.25,0.3,0.35,0.45,0.5],"domain":false,"labels":false,"tickSize":6.5,"tickColor":"#444444","tickWidth":1.3,"title":null,"zindex":1}}}}
]
}
